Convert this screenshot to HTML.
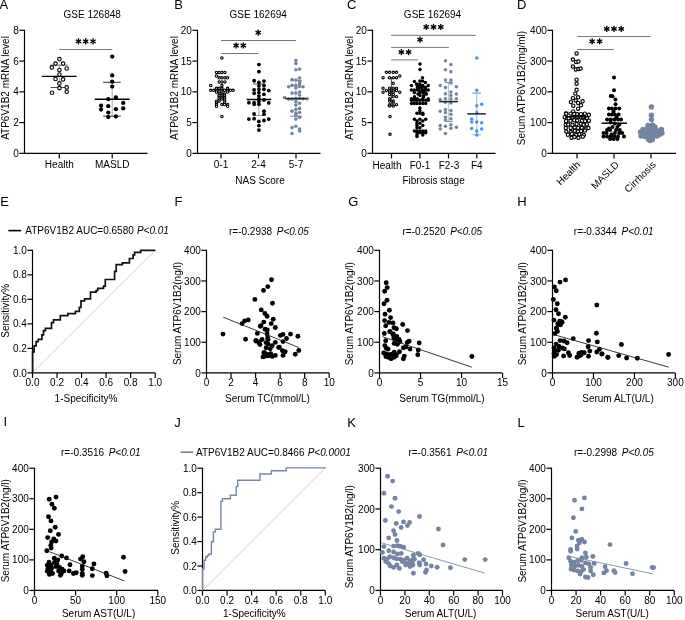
<!DOCTYPE html>
<html><head><meta charset="utf-8"><style>
html,body{margin:0;padding:0;background:#fff;overflow:hidden;}
svg{display:block;font-family:"Liberation Sans",sans-serif;will-change:transform;}
</style></head><body>
<svg width="685" height="620" viewBox="0 0 685 620">
<rect width="685" height="620" fill="#fff"/>
<text x="-0.6" y="8.7" font-size="13" text-anchor="start" fill="#000">A</text>
<text x="92.2" y="18" font-size="10" text-anchor="middle" fill="#000">GSE 126848</text>
<text x="9.2" y="88" font-size="10" text-anchor="middle" transform="rotate(-90 9.2 88)" fill="#000">ATP6V1B2 mRNA level</text>
<line x1="24.5" y1="29.8" x2="24.5" y2="153.9" stroke="#000" stroke-width="1.2" stroke-linecap="butt"/>
<line x1="19.4" y1="153.35" x2="24.5" y2="153.35" stroke="#000" stroke-width="1.2" stroke-linecap="butt"/>
<text x="18.8" y="156.95" font-size="10" text-anchor="end" fill="#000">0</text>
<line x1="19.4" y1="122.58749999999999" x2="24.5" y2="122.58749999999999" stroke="#000" stroke-width="1.2" stroke-linecap="butt"/>
<text x="18.8" y="126.18749999999999" font-size="10" text-anchor="end" fill="#000">2</text>
<line x1="19.4" y1="91.82499999999999" x2="24.5" y2="91.82499999999999" stroke="#000" stroke-width="1.2" stroke-linecap="butt"/>
<text x="18.8" y="95.42499999999998" font-size="10" text-anchor="end" fill="#000">4</text>
<line x1="19.4" y1="61.0625" x2="24.5" y2="61.0625" stroke="#000" stroke-width="1.2" stroke-linecap="butt"/>
<text x="18.8" y="64.6625" font-size="10" text-anchor="end" fill="#000">6</text>
<line x1="19.4" y1="30.299999999999997" x2="24.5" y2="30.299999999999997" stroke="#000" stroke-width="1.2" stroke-linecap="butt"/>
<text x="18.8" y="33.9" font-size="10" text-anchor="end" fill="#000">8</text>
<line x1="23.95" y1="153.35" x2="147.5" y2="153.35" stroke="#000" stroke-width="1.2" stroke-linecap="butt"/>
<line x1="59.3" y1="153.35" x2="59.3" y2="158.45" stroke="#000" stroke-width="1.2" stroke-linecap="butt"/>
<line x1="112.2" y1="153.35" x2="112.2" y2="158.45" stroke="#000" stroke-width="1.2" stroke-linecap="butt"/>
<text x="59.3" y="167.9" font-size="10" text-anchor="middle" fill="#000">Health</text>
<text x="112.2" y="167.9" font-size="10" text-anchor="middle" fill="#000">MASLD</text>
<text x="174.3" y="9" font-size="13" text-anchor="start" fill="#000">B</text>
<text x="258.2" y="18" font-size="10" text-anchor="middle" fill="#000">GSE 162694</text>
<text x="177.6" y="88" font-size="10" text-anchor="middle" transform="rotate(-90 177.6 88)" fill="#000">ATP6V1B2 mRNA level</text>
<line x1="197.5" y1="29.8" x2="197.5" y2="153.9" stroke="#000" stroke-width="1.2" stroke-linecap="butt"/>
<line x1="192.4" y1="153.35" x2="197.5" y2="153.35" stroke="#000" stroke-width="1.2" stroke-linecap="butt"/>
<text x="191.8" y="156.95" font-size="10" text-anchor="end" fill="#000">0</text>
<line x1="192.4" y1="122.58749999999999" x2="197.5" y2="122.58749999999999" stroke="#000" stroke-width="1.2" stroke-linecap="butt"/>
<text x="191.8" y="126.18749999999999" font-size="10" text-anchor="end" fill="#000">5</text>
<line x1="192.4" y1="91.82499999999999" x2="197.5" y2="91.82499999999999" stroke="#000" stroke-width="1.2" stroke-linecap="butt"/>
<text x="191.8" y="95.42499999999998" font-size="10" text-anchor="end" fill="#000">10</text>
<line x1="192.4" y1="61.0625" x2="197.5" y2="61.0625" stroke="#000" stroke-width="1.2" stroke-linecap="butt"/>
<text x="191.8" y="64.6625" font-size="10" text-anchor="end" fill="#000">15</text>
<line x1="192.4" y1="30.299999999999997" x2="197.5" y2="30.299999999999997" stroke="#000" stroke-width="1.2" stroke-linecap="butt"/>
<text x="191.8" y="33.9" font-size="10" text-anchor="end" fill="#000">20</text>
<line x1="196.95" y1="153.35" x2="320.5" y2="153.35" stroke="#000" stroke-width="1.2" stroke-linecap="butt"/>
<line x1="221" y1="153.35" x2="221" y2="158.45" stroke="#000" stroke-width="1.2" stroke-linecap="butt"/>
<line x1="258.5" y1="153.35" x2="258.5" y2="158.45" stroke="#000" stroke-width="1.2" stroke-linecap="butt"/>
<line x1="296" y1="153.35" x2="296" y2="158.45" stroke="#000" stroke-width="1.2" stroke-linecap="butt"/>
<text x="221" y="168.2" font-size="10" text-anchor="middle" fill="#000">0-1</text>
<text x="258.5" y="168.2" font-size="10" text-anchor="middle" fill="#000">2-4</text>
<text x="296" y="168.2" font-size="10" text-anchor="middle" fill="#000">5-7</text>
<text x="260" y="183.6" font-size="10" text-anchor="middle" fill="#000">NAS Score</text>
<text x="347" y="9" font-size="13" text-anchor="start" fill="#000">C</text>
<text x="432.5" y="18" font-size="10" text-anchor="middle" fill="#000">GSE 162694</text>
<text x="352.5" y="88" font-size="10" text-anchor="middle" transform="rotate(-90 352.5 88)" fill="#000">ATP6V1B2 mRNA level</text>
<line x1="372.5" y1="29.8" x2="372.5" y2="153.9" stroke="#000" stroke-width="1.2" stroke-linecap="butt"/>
<line x1="367.4" y1="153.35" x2="372.5" y2="153.35" stroke="#000" stroke-width="1.2" stroke-linecap="butt"/>
<text x="366.8" y="156.95" font-size="10" text-anchor="end" fill="#000">0</text>
<line x1="367.4" y1="122.58749999999999" x2="372.5" y2="122.58749999999999" stroke="#000" stroke-width="1.2" stroke-linecap="butt"/>
<text x="366.8" y="126.18749999999999" font-size="10" text-anchor="end" fill="#000">5</text>
<line x1="367.4" y1="91.82499999999999" x2="372.5" y2="91.82499999999999" stroke="#000" stroke-width="1.2" stroke-linecap="butt"/>
<text x="366.8" y="95.42499999999998" font-size="10" text-anchor="end" fill="#000">10</text>
<line x1="367.4" y1="61.0625" x2="372.5" y2="61.0625" stroke="#000" stroke-width="1.2" stroke-linecap="butt"/>
<text x="366.8" y="64.6625" font-size="10" text-anchor="end" fill="#000">15</text>
<line x1="367.4" y1="30.299999999999997" x2="372.5" y2="30.299999999999997" stroke="#000" stroke-width="1.2" stroke-linecap="butt"/>
<text x="366.8" y="33.9" font-size="10" text-anchor="end" fill="#000">20</text>
<line x1="371.95" y1="153.35" x2="495.5" y2="153.35" stroke="#000" stroke-width="1.2" stroke-linecap="butt"/>
<line x1="391.5" y1="153.35" x2="391.5" y2="158.45" stroke="#000" stroke-width="1.2" stroke-linecap="butt"/>
<line x1="419.9" y1="153.35" x2="419.9" y2="158.45" stroke="#000" stroke-width="1.2" stroke-linecap="butt"/>
<line x1="448.5" y1="153.35" x2="448.5" y2="158.45" stroke="#000" stroke-width="1.2" stroke-linecap="butt"/>
<line x1="476.8" y1="153.35" x2="476.8" y2="158.45" stroke="#000" stroke-width="1.2" stroke-linecap="butt"/>
<text x="387" y="168.6" font-size="10" text-anchor="middle" fill="#000">Health</text>
<text x="420" y="168.6" font-size="10" text-anchor="middle" fill="#000">F0-1</text>
<text x="449" y="168.6" font-size="10" text-anchor="middle" fill="#000">F2-3</text>
<text x="476.8" y="168.6" font-size="10" text-anchor="middle" fill="#000">F4</text>
<text x="433.6" y="183.8" font-size="10" text-anchor="middle" fill="#000">Fibrosis stage</text>
<text x="517" y="9" font-size="13" text-anchor="start" fill="#000">D</text>
<text x="525.3" y="88" font-size="10" text-anchor="middle" transform="rotate(-90 525.3 88)" fill="#000">Serum ATP6V1B2(mg/ml)</text>
<line x1="552.5" y1="29.8" x2="552.5" y2="153.9" stroke="#000" stroke-width="1.2" stroke-linecap="butt"/>
<line x1="547.4" y1="153.35" x2="552.5" y2="153.35" stroke="#000" stroke-width="1.2" stroke-linecap="butt"/>
<text x="546.8" y="156.95" font-size="10" text-anchor="end" fill="#000">0</text>
<line x1="547.4" y1="122.58749999999999" x2="552.5" y2="122.58749999999999" stroke="#000" stroke-width="1.2" stroke-linecap="butt"/>
<text x="546.8" y="126.18749999999999" font-size="10" text-anchor="end" fill="#000">100</text>
<line x1="547.4" y1="91.82499999999999" x2="552.5" y2="91.82499999999999" stroke="#000" stroke-width="1.2" stroke-linecap="butt"/>
<text x="546.8" y="95.42499999999998" font-size="10" text-anchor="end" fill="#000">200</text>
<line x1="547.4" y1="61.0625" x2="552.5" y2="61.0625" stroke="#000" stroke-width="1.2" stroke-linecap="butt"/>
<text x="546.8" y="64.6625" font-size="10" text-anchor="end" fill="#000">300</text>
<line x1="547.4" y1="30.299999999999997" x2="552.5" y2="30.299999999999997" stroke="#000" stroke-width="1.2" stroke-linecap="butt"/>
<text x="546.8" y="33.9" font-size="10" text-anchor="end" fill="#000">400</text>
<line x1="551.95" y1="153.35" x2="676" y2="153.35" stroke="#000" stroke-width="1.2" stroke-linecap="butt"/>
<line x1="577" y1="153.35" x2="577" y2="158.45" stroke="#000" stroke-width="1.2" stroke-linecap="butt"/>
<line x1="614" y1="153.35" x2="614" y2="158.45" stroke="#000" stroke-width="1.2" stroke-linecap="butt"/>
<line x1="651" y1="153.35" x2="651" y2="158.45" stroke="#000" stroke-width="1.2" stroke-linecap="butt"/>
<text x="581" y="165.3" font-size="10" text-anchor="end" transform="rotate(-45 581 165.3)">Health</text>
<text x="619.5" y="165.3" font-size="10" text-anchor="end" transform="rotate(-45 619.5 165.3)">MASLD</text>
<text x="656.5" y="165.3" font-size="10" text-anchor="end" transform="rotate(-45 656.5 165.3)">Cirrhosis</text>
<text x="0.3" y="206.1" font-size="13" text-anchor="start" fill="#000">E</text>
<line x1="8.4" y1="230.6" x2="21.2" y2="230.6" stroke="#000" stroke-width="1.6" stroke-linecap="butt"/>
<text x="25.3" y="234.4" font-size="10" text-anchor="start" fill="#000">ATP6V1B2 AUC=0.6580 </text>
<text x="136.9" y="234.4" font-size="10" text-anchor="start" font-style="italic" fill="#000">P&lt;0.01</text>
<text x="9.0" y="310.8" font-size="10" text-anchor="middle" transform="rotate(-90 9.0 310.8)" fill="#000">Sensitivity%</text>
<line x1="32.5" y1="249.8" x2="32.5" y2="373.45" stroke="#000" stroke-width="1.2" stroke-linecap="butt"/>
<line x1="27.4" y1="372.9" x2="32.5" y2="372.9" stroke="#000" stroke-width="1.2" stroke-linecap="butt"/>
<text x="26.8" y="376.5" font-size="10" text-anchor="end" fill="#000">0.0</text>
<line x1="27.4" y1="348.38" x2="32.5" y2="348.38" stroke="#000" stroke-width="1.2" stroke-linecap="butt"/>
<text x="26.8" y="351.98" font-size="10" text-anchor="end" fill="#000">0.2</text>
<line x1="27.4" y1="323.86" x2="32.5" y2="323.86" stroke="#000" stroke-width="1.2" stroke-linecap="butt"/>
<text x="26.8" y="327.46000000000004" font-size="10" text-anchor="end" fill="#000">0.4</text>
<line x1="27.4" y1="299.34000000000003" x2="32.5" y2="299.34000000000003" stroke="#000" stroke-width="1.2" stroke-linecap="butt"/>
<text x="26.8" y="302.94000000000005" font-size="10" text-anchor="end" fill="#000">0.6</text>
<line x1="27.4" y1="274.82" x2="32.5" y2="274.82" stroke="#000" stroke-width="1.2" stroke-linecap="butt"/>
<text x="26.8" y="278.42" font-size="10" text-anchor="end" fill="#000">0.8</text>
<line x1="27.4" y1="250.3" x2="32.5" y2="250.3" stroke="#000" stroke-width="1.2" stroke-linecap="butt"/>
<text x="26.8" y="253.9" font-size="10" text-anchor="end" fill="#000">1.0</text>
<line x1="31.95" y1="372.9" x2="155.2" y2="372.9" stroke="#000" stroke-width="1.2" stroke-linecap="butt"/>
<line x1="32.5" y1="372.9" x2="32.5" y2="378.0" stroke="#000" stroke-width="1.2" stroke-linecap="butt"/>
<text x="32.5" y="386.4" font-size="10" text-anchor="middle" fill="#000">0.0</text>
<line x1="57.04" y1="372.9" x2="57.04" y2="378.0" stroke="#000" stroke-width="1.2" stroke-linecap="butt"/>
<text x="57.04" y="386.4" font-size="10" text-anchor="middle" fill="#000">0.2</text>
<line x1="81.58" y1="372.9" x2="81.58" y2="378.0" stroke="#000" stroke-width="1.2" stroke-linecap="butt"/>
<text x="81.58" y="386.4" font-size="10" text-anchor="middle" fill="#000">0.4</text>
<line x1="106.11999999999999" y1="372.9" x2="106.11999999999999" y2="378.0" stroke="#000" stroke-width="1.2" stroke-linecap="butt"/>
<text x="106.11999999999999" y="386.4" font-size="10" text-anchor="middle" fill="#000">0.6</text>
<line x1="130.66" y1="372.9" x2="130.66" y2="378.0" stroke="#000" stroke-width="1.2" stroke-linecap="butt"/>
<text x="130.66" y="386.4" font-size="10" text-anchor="middle" fill="#000">0.8</text>
<line x1="155.2" y1="372.9" x2="155.2" y2="378.0" stroke="#000" stroke-width="1.2" stroke-linecap="butt"/>
<text x="155.2" y="386.4" font-size="10" text-anchor="middle" fill="#000">1.0</text>
<text x="86" y="401.5" font-size="10" text-anchor="middle" fill="#000">1-Specificity%</text>
<text x="174.5" y="206.1" font-size="13" text-anchor="start" fill="#000">F</text>
<text x="229" y="234.7" font-size="10" text-anchor="start" fill="#000">r=-0.2938</text>
<text x="276.8" y="234.7" font-size="10" text-anchor="start" font-style="italic" fill="#000">P&lt;0.05</text>
<text x="180.6" y="313.5" font-size="10" text-anchor="middle" transform="rotate(-90 180.6 313.5)" fill="#000">Serum ATP6V1B2(ng/l)</text>
<line x1="206.5" y1="249.8" x2="206.5" y2="373.45" stroke="#000" stroke-width="1.2" stroke-linecap="butt"/>
<line x1="201.4" y1="372.9" x2="206.5" y2="372.9" stroke="#000" stroke-width="1.2" stroke-linecap="butt"/>
<text x="200.8" y="376.5" font-size="10" text-anchor="end" fill="#000">0</text>
<line x1="201.4" y1="342.25" x2="206.5" y2="342.25" stroke="#000" stroke-width="1.2" stroke-linecap="butt"/>
<text x="200.8" y="345.85" font-size="10" text-anchor="end" fill="#000">100</text>
<line x1="201.4" y1="311.6" x2="206.5" y2="311.6" stroke="#000" stroke-width="1.2" stroke-linecap="butt"/>
<text x="200.8" y="315.20000000000005" font-size="10" text-anchor="end" fill="#000">200</text>
<line x1="201.4" y1="280.95" x2="206.5" y2="280.95" stroke="#000" stroke-width="1.2" stroke-linecap="butt"/>
<text x="200.8" y="284.55" font-size="10" text-anchor="end" fill="#000">300</text>
<line x1="201.4" y1="250.3" x2="206.5" y2="250.3" stroke="#000" stroke-width="1.2" stroke-linecap="butt"/>
<text x="200.8" y="253.9" font-size="10" text-anchor="end" fill="#000">400</text>
<line x1="205.95" y1="372.9" x2="329.3" y2="372.9" stroke="#000" stroke-width="1.2" stroke-linecap="butt"/>
<line x1="206.5" y1="372.9" x2="206.5" y2="378.0" stroke="#000" stroke-width="1.2" stroke-linecap="butt"/>
<text x="206.5" y="386.4" font-size="10" text-anchor="middle" fill="#000">0</text>
<line x1="231.04" y1="372.9" x2="231.04" y2="378.0" stroke="#000" stroke-width="1.2" stroke-linecap="butt"/>
<text x="231.04" y="386.4" font-size="10" text-anchor="middle" fill="#000">2</text>
<line x1="255.57999999999998" y1="372.9" x2="255.57999999999998" y2="378.0" stroke="#000" stroke-width="1.2" stroke-linecap="butt"/>
<text x="255.57999999999998" y="386.4" font-size="10" text-anchor="middle" fill="#000">4</text>
<line x1="280.12" y1="372.9" x2="280.12" y2="378.0" stroke="#000" stroke-width="1.2" stroke-linecap="butt"/>
<text x="280.12" y="386.4" font-size="10" text-anchor="middle" fill="#000">6</text>
<line x1="304.65999999999997" y1="372.9" x2="304.65999999999997" y2="378.0" stroke="#000" stroke-width="1.2" stroke-linecap="butt"/>
<text x="304.65999999999997" y="386.4" font-size="10" text-anchor="middle" fill="#000">8</text>
<line x1="329.2" y1="372.9" x2="329.2" y2="378.0" stroke="#000" stroke-width="1.2" stroke-linecap="butt"/>
<text x="329.2" y="386.4" font-size="10" text-anchor="middle" fill="#000">10</text>
<text x="267.5" y="401.7" font-size="10" text-anchor="middle" fill="#000">Serum TC(mmol/L)</text>
<text x="348.3" y="206.1" font-size="13" text-anchor="start" fill="#000">G</text>
<text x="402.5" y="234.7" font-size="10" text-anchor="start" fill="#000">r=-0.2520</text>
<text x="450.2" y="234.7" font-size="10" text-anchor="start" font-style="italic" fill="#000">P&lt;0.05</text>
<text x="353.2" y="313.7" font-size="10" text-anchor="middle" transform="rotate(-90 353.2 313.7)" fill="#000">Serum ATP6V1B2(ng/l)</text>
<line x1="379.5" y1="249.8" x2="379.5" y2="373.45" stroke="#000" stroke-width="1.2" stroke-linecap="butt"/>
<line x1="374.4" y1="372.9" x2="379.5" y2="372.9" stroke="#000" stroke-width="1.2" stroke-linecap="butt"/>
<text x="373.8" y="376.5" font-size="10" text-anchor="end" fill="#000">0</text>
<line x1="374.4" y1="342.25" x2="379.5" y2="342.25" stroke="#000" stroke-width="1.2" stroke-linecap="butt"/>
<text x="373.8" y="345.85" font-size="10" text-anchor="end" fill="#000">100</text>
<line x1="374.4" y1="311.6" x2="379.5" y2="311.6" stroke="#000" stroke-width="1.2" stroke-linecap="butt"/>
<text x="373.8" y="315.20000000000005" font-size="10" text-anchor="end" fill="#000">200</text>
<line x1="374.4" y1="280.95" x2="379.5" y2="280.95" stroke="#000" stroke-width="1.2" stroke-linecap="butt"/>
<text x="373.8" y="284.55" font-size="10" text-anchor="end" fill="#000">300</text>
<line x1="374.4" y1="250.3" x2="379.5" y2="250.3" stroke="#000" stroke-width="1.2" stroke-linecap="butt"/>
<text x="373.8" y="253.9" font-size="10" text-anchor="end" fill="#000">400</text>
<line x1="378.95" y1="372.9" x2="502.2" y2="372.9" stroke="#000" stroke-width="1.2" stroke-linecap="butt"/>
<line x1="379.5" y1="372.9" x2="379.5" y2="378.0" stroke="#000" stroke-width="1.2" stroke-linecap="butt"/>
<text x="379.5" y="386.4" font-size="10" text-anchor="middle" fill="#000">0</text>
<line x1="420.53" y1="372.9" x2="420.53" y2="378.0" stroke="#000" stroke-width="1.2" stroke-linecap="butt"/>
<text x="420.53" y="386.4" font-size="10" text-anchor="middle" fill="#000">5</text>
<line x1="461.56" y1="372.9" x2="461.56" y2="378.0" stroke="#000" stroke-width="1.2" stroke-linecap="butt"/>
<text x="461.56" y="386.4" font-size="10" text-anchor="middle" fill="#000">10</text>
<line x1="502.59000000000003" y1="372.9" x2="502.59000000000003" y2="378.0" stroke="#000" stroke-width="1.2" stroke-linecap="butt"/>
<text x="502.59000000000003" y="386.4" font-size="10" text-anchor="middle" fill="#000">15</text>
<text x="442" y="401.7" font-size="10" text-anchor="middle" fill="#000">Serum TG(mmol/L)</text>
<text x="517.3" y="206.1" font-size="13" text-anchor="start" fill="#000">H</text>
<text x="573.8" y="234.7" font-size="10" text-anchor="start" fill="#000">r=-0.3344</text>
<text x="621.6" y="234.7" font-size="10" text-anchor="start" font-style="italic" fill="#000">P&lt;0.01</text>
<text x="525.8" y="313.7" font-size="10" text-anchor="middle" transform="rotate(-90 525.8 313.7)" fill="#000">Serum ATP6V1B2(ng/l)</text>
<line x1="552.5" y1="249.8" x2="552.5" y2="373.45" stroke="#000" stroke-width="1.2" stroke-linecap="butt"/>
<line x1="547.4" y1="372.9" x2="552.5" y2="372.9" stroke="#000" stroke-width="1.2" stroke-linecap="butt"/>
<text x="546.8" y="376.5" font-size="10" text-anchor="end" fill="#000">0</text>
<line x1="547.4" y1="342.25" x2="552.5" y2="342.25" stroke="#000" stroke-width="1.2" stroke-linecap="butt"/>
<text x="546.8" y="345.85" font-size="10" text-anchor="end" fill="#000">100</text>
<line x1="547.4" y1="311.6" x2="552.5" y2="311.6" stroke="#000" stroke-width="1.2" stroke-linecap="butt"/>
<text x="546.8" y="315.20000000000005" font-size="10" text-anchor="end" fill="#000">200</text>
<line x1="547.4" y1="280.95" x2="552.5" y2="280.95" stroke="#000" stroke-width="1.2" stroke-linecap="butt"/>
<text x="546.8" y="284.55" font-size="10" text-anchor="end" fill="#000">300</text>
<line x1="547.4" y1="250.3" x2="552.5" y2="250.3" stroke="#000" stroke-width="1.2" stroke-linecap="butt"/>
<text x="546.8" y="253.9" font-size="10" text-anchor="end" fill="#000">400</text>
<line x1="551.95" y1="372.9" x2="675.2" y2="372.9" stroke="#000" stroke-width="1.2" stroke-linecap="butt"/>
<line x1="552.5" y1="372.9" x2="552.5" y2="378.0" stroke="#000" stroke-width="1.2" stroke-linecap="butt"/>
<text x="552.5" y="386.4" font-size="10" text-anchor="middle" fill="#000">0</text>
<line x1="593.47" y1="372.9" x2="593.47" y2="378.0" stroke="#000" stroke-width="1.2" stroke-linecap="butt"/>
<text x="593.47" y="386.4" font-size="10" text-anchor="middle" fill="#000">100</text>
<line x1="634.44" y1="372.9" x2="634.44" y2="378.0" stroke="#000" stroke-width="1.2" stroke-linecap="butt"/>
<text x="634.44" y="386.4" font-size="10" text-anchor="middle" fill="#000">200</text>
<line x1="675.41" y1="372.9" x2="675.41" y2="378.0" stroke="#000" stroke-width="1.2" stroke-linecap="butt"/>
<text x="675.41" y="386.4" font-size="10" text-anchor="middle" fill="#000">300</text>
<text x="618" y="401.7" font-size="10" text-anchor="middle" fill="#000">Serum ALT(U/L)</text>
<text x="3.4" y="426.4" font-size="13" text-anchor="start" fill="#000">I</text>
<text x="61" y="456.1" font-size="10" text-anchor="start" fill="#000">r=-0.3516</text>
<text x="108.7" y="456.1" font-size="10" text-anchor="start" font-style="italic" fill="#000">P&lt;0.01</text>
<text x="8.8" y="530.7" font-size="10" text-anchor="middle" transform="rotate(-90 8.8 530.7)" fill="#000">Serum ATP6V1B2(ng/l)</text>
<line x1="34.5" y1="467.7" x2="34.5" y2="591.0" stroke="#000" stroke-width="1.2" stroke-linecap="butt"/>
<line x1="29.4" y1="590.45" x2="34.5" y2="590.45" stroke="#000" stroke-width="1.2" stroke-linecap="butt"/>
<text x="28.8" y="594.0500000000001" font-size="10" text-anchor="end" fill="#000">0</text>
<line x1="29.4" y1="559.8875" x2="34.5" y2="559.8875" stroke="#000" stroke-width="1.2" stroke-linecap="butt"/>
<text x="28.8" y="563.4875000000001" font-size="10" text-anchor="end" fill="#000">100</text>
<line x1="29.4" y1="529.325" x2="34.5" y2="529.325" stroke="#000" stroke-width="1.2" stroke-linecap="butt"/>
<text x="28.8" y="532.9250000000001" font-size="10" text-anchor="end" fill="#000">200</text>
<line x1="29.4" y1="498.7625" x2="34.5" y2="498.7625" stroke="#000" stroke-width="1.2" stroke-linecap="butt"/>
<text x="28.8" y="502.3625" font-size="10" text-anchor="end" fill="#000">300</text>
<line x1="29.4" y1="468.2" x2="34.5" y2="468.2" stroke="#000" stroke-width="1.2" stroke-linecap="butt"/>
<text x="28.8" y="471.8" font-size="10" text-anchor="end" fill="#000">400</text>
<line x1="33.95" y1="590.45" x2="158.1" y2="590.45" stroke="#000" stroke-width="1.2" stroke-linecap="butt"/>
<line x1="34.5" y1="590.45" x2="34.5" y2="595.5500000000001" stroke="#000" stroke-width="1.2" stroke-linecap="butt"/>
<text x="34.5" y="603.95" font-size="10" text-anchor="middle" fill="#000">0</text>
<line x1="75.6" y1="590.45" x2="75.6" y2="595.5500000000001" stroke="#000" stroke-width="1.2" stroke-linecap="butt"/>
<text x="75.6" y="603.95" font-size="10" text-anchor="middle" fill="#000">50</text>
<line x1="116.7" y1="590.45" x2="116.7" y2="595.5500000000001" stroke="#000" stroke-width="1.2" stroke-linecap="butt"/>
<text x="116.7" y="603.95" font-size="10" text-anchor="middle" fill="#000">100</text>
<line x1="157.8" y1="590.45" x2="157.8" y2="595.5500000000001" stroke="#000" stroke-width="1.2" stroke-linecap="butt"/>
<text x="157.8" y="603.95" font-size="10" text-anchor="middle" fill="#000">150</text>
<text x="98.6" y="617.2" font-size="10" text-anchor="middle" fill="#000">Serum AST(U/L)</text>
<text x="174.3" y="426.6" font-size="13" text-anchor="start" fill="#000">J</text>
<line x1="180.6" y1="452.2" x2="193.1" y2="452.2" stroke="#6f7f98" stroke-width="1.6" stroke-linecap="butt"/>
<text x="196" y="456.2" font-size="10" text-anchor="start" fill="#000">ATP6V1B2 AUC=0.8466 </text>
<text x="307.7" y="456.2" font-size="10" text-anchor="start" font-style="italic" fill="#000">P&lt;0.0001</text>
<text x="179.2" y="527.7" font-size="10" text-anchor="middle" transform="rotate(-90 179.2 527.7)" fill="#000">Sensitivity%</text>
<line x1="202.5" y1="467.7" x2="202.5" y2="591.0" stroke="#000" stroke-width="1.2" stroke-linecap="butt"/>
<line x1="197.4" y1="590.45" x2="202.5" y2="590.45" stroke="#000" stroke-width="1.2" stroke-linecap="butt"/>
<text x="196.8" y="594.0500000000001" font-size="10" text-anchor="end" fill="#000">0.0</text>
<line x1="197.4" y1="566.0" x2="202.5" y2="566.0" stroke="#000" stroke-width="1.2" stroke-linecap="butt"/>
<text x="196.8" y="569.6" font-size="10" text-anchor="end" fill="#000">0.2</text>
<line x1="197.4" y1="541.5500000000001" x2="202.5" y2="541.5500000000001" stroke="#000" stroke-width="1.2" stroke-linecap="butt"/>
<text x="196.8" y="545.1500000000001" font-size="10" text-anchor="end" fill="#000">0.4</text>
<line x1="197.4" y1="517.1" x2="202.5" y2="517.1" stroke="#000" stroke-width="1.2" stroke-linecap="butt"/>
<text x="196.8" y="520.7" font-size="10" text-anchor="end" fill="#000">0.6</text>
<line x1="197.4" y1="492.65" x2="202.5" y2="492.65" stroke="#000" stroke-width="1.2" stroke-linecap="butt"/>
<text x="196.8" y="496.25" font-size="10" text-anchor="end" fill="#000">0.8</text>
<line x1="197.4" y1="468.2" x2="202.5" y2="468.2" stroke="#000" stroke-width="1.2" stroke-linecap="butt"/>
<text x="196.8" y="471.8" font-size="10" text-anchor="end" fill="#000">1.0</text>
<line x1="201.95" y1="590.45" x2="325.3" y2="590.45" stroke="#000" stroke-width="1.2" stroke-linecap="butt"/>
<line x1="202.5" y1="590.45" x2="202.5" y2="595.5500000000001" stroke="#000" stroke-width="1.2" stroke-linecap="butt"/>
<text x="202.5" y="603.95" font-size="10" text-anchor="middle" fill="#000">0.0</text>
<line x1="227.06" y1="590.45" x2="227.06" y2="595.5500000000001" stroke="#000" stroke-width="1.2" stroke-linecap="butt"/>
<text x="227.06" y="603.95" font-size="10" text-anchor="middle" fill="#000">0.2</text>
<line x1="251.62" y1="590.45" x2="251.62" y2="595.5500000000001" stroke="#000" stroke-width="1.2" stroke-linecap="butt"/>
<text x="251.62" y="603.95" font-size="10" text-anchor="middle" fill="#000">0.4</text>
<line x1="276.18" y1="590.45" x2="276.18" y2="595.5500000000001" stroke="#000" stroke-width="1.2" stroke-linecap="butt"/>
<text x="276.18" y="603.95" font-size="10" text-anchor="middle" fill="#000">0.6</text>
<line x1="300.74" y1="590.45" x2="300.74" y2="595.5500000000001" stroke="#000" stroke-width="1.2" stroke-linecap="butt"/>
<text x="300.74" y="603.95" font-size="10" text-anchor="middle" fill="#000">0.8</text>
<line x1="325.3" y1="590.45" x2="325.3" y2="595.5500000000001" stroke="#000" stroke-width="1.2" stroke-linecap="butt"/>
<text x="325.3" y="603.95" font-size="10" text-anchor="middle" fill="#000">1.0</text>
<text x="254.3" y="617.4" font-size="10" text-anchor="middle" fill="#000">1-Specificity%</text>
<text x="347.3" y="426.6" font-size="13" text-anchor="start" fill="#000">K</text>
<text x="408.4" y="456.2" font-size="10" text-anchor="start" fill="#000">r=-0.3561</text>
<text x="456.2" y="456.2" font-size="10" text-anchor="start" font-style="italic" fill="#000">P&lt;0.01</text>
<text x="353.5" y="536.7" font-size="10" text-anchor="middle" transform="rotate(-90 353.5 536.7)" fill="#000">Serum ATP6V1B2(ng/l)</text>
<line x1="380.5" y1="467.7" x2="380.5" y2="591.0" stroke="#000" stroke-width="1.2" stroke-linecap="butt"/>
<line x1="375.4" y1="590.45" x2="380.5" y2="590.45" stroke="#000" stroke-width="1.2" stroke-linecap="butt"/>
<text x="374.8" y="594.0500000000001" font-size="10" text-anchor="end" fill="#000">0</text>
<line x1="375.4" y1="549.7" x2="380.5" y2="549.7" stroke="#000" stroke-width="1.2" stroke-linecap="butt"/>
<text x="374.8" y="553.3000000000001" font-size="10" text-anchor="end" fill="#000">100</text>
<line x1="375.4" y1="508.95" x2="380.5" y2="508.95" stroke="#000" stroke-width="1.2" stroke-linecap="butt"/>
<text x="374.8" y="512.55" font-size="10" text-anchor="end" fill="#000">200</text>
<line x1="375.4" y1="468.2" x2="380.5" y2="468.2" stroke="#000" stroke-width="1.2" stroke-linecap="butt"/>
<text x="374.8" y="471.8" font-size="10" text-anchor="end" fill="#000">300</text>
<line x1="379.95" y1="590.45" x2="502.6" y2="590.45" stroke="#000" stroke-width="1.2" stroke-linecap="butt"/>
<line x1="380.5" y1="590.45" x2="380.5" y2="595.5500000000001" stroke="#000" stroke-width="1.2" stroke-linecap="butt"/>
<text x="380.5" y="603.95" font-size="10" text-anchor="middle" fill="#000">0</text>
<line x1="404.9" y1="590.45" x2="404.9" y2="595.5500000000001" stroke="#000" stroke-width="1.2" stroke-linecap="butt"/>
<text x="404.9" y="603.95" font-size="10" text-anchor="middle" fill="#000">20</text>
<line x1="429.3" y1="590.45" x2="429.3" y2="595.5500000000001" stroke="#000" stroke-width="1.2" stroke-linecap="butt"/>
<text x="429.3" y="603.95" font-size="10" text-anchor="middle" fill="#000">40</text>
<line x1="453.7" y1="590.45" x2="453.7" y2="595.5500000000001" stroke="#000" stroke-width="1.2" stroke-linecap="butt"/>
<text x="453.7" y="603.95" font-size="10" text-anchor="middle" fill="#000">60</text>
<line x1="478.1" y1="590.45" x2="478.1" y2="595.5500000000001" stroke="#000" stroke-width="1.2" stroke-linecap="butt"/>
<text x="478.1" y="603.95" font-size="10" text-anchor="middle" fill="#000">80</text>
<line x1="502.5" y1="590.45" x2="502.5" y2="595.5500000000001" stroke="#000" stroke-width="1.2" stroke-linecap="butt"/>
<text x="502.5" y="603.95" font-size="10" text-anchor="middle" fill="#000">100</text>
<text x="440.6" y="617.4" font-size="10" text-anchor="middle" fill="#000">Serum ALT(U/L)</text>
<text x="517.5" y="426.6" font-size="13" text-anchor="start" fill="#000">L</text>
<text x="574" y="456.2" font-size="10" text-anchor="start" fill="#000">r=-0.2998</text>
<text x="621.8" y="456.2" font-size="10" text-anchor="start" font-style="italic" fill="#000">P&lt;0.05</text>
<text x="526.3" y="531" font-size="10" text-anchor="middle" transform="rotate(-90 526.3 531)" fill="#000">Serum ATP6V1B2(ng/l)</text>
<line x1="551.5" y1="467.7" x2="551.5" y2="591.0" stroke="#000" stroke-width="1.2" stroke-linecap="butt"/>
<line x1="546.4" y1="590.45" x2="551.5" y2="590.45" stroke="#000" stroke-width="1.2" stroke-linecap="butt"/>
<text x="545.8" y="594.0500000000001" font-size="10" text-anchor="end" fill="#000">0</text>
<line x1="546.4" y1="559.8875" x2="551.5" y2="559.8875" stroke="#000" stroke-width="1.2" stroke-linecap="butt"/>
<text x="545.8" y="563.4875000000001" font-size="10" text-anchor="end" fill="#000">100</text>
<line x1="546.4" y1="529.325" x2="551.5" y2="529.325" stroke="#000" stroke-width="1.2" stroke-linecap="butt"/>
<text x="545.8" y="532.9250000000001" font-size="10" text-anchor="end" fill="#000">200</text>
<line x1="546.4" y1="498.7625" x2="551.5" y2="498.7625" stroke="#000" stroke-width="1.2" stroke-linecap="butt"/>
<text x="545.8" y="502.3625" font-size="10" text-anchor="end" fill="#000">300</text>
<line x1="546.4" y1="468.2" x2="551.5" y2="468.2" stroke="#000" stroke-width="1.2" stroke-linecap="butt"/>
<text x="545.8" y="471.8" font-size="10" text-anchor="end" fill="#000">400</text>
<line x1="550.95" y1="590.45" x2="674.2" y2="590.45" stroke="#000" stroke-width="1.2" stroke-linecap="butt"/>
<line x1="551.5" y1="590.45" x2="551.5" y2="595.5500000000001" stroke="#000" stroke-width="1.2" stroke-linecap="butt"/>
<text x="551.5" y="603.95" font-size="10" text-anchor="middle" fill="#000">0</text>
<line x1="576.06" y1="590.45" x2="576.06" y2="595.5500000000001" stroke="#000" stroke-width="1.2" stroke-linecap="butt"/>
<text x="576.06" y="603.95" font-size="10" text-anchor="middle" fill="#000">20</text>
<line x1="600.62" y1="590.45" x2="600.62" y2="595.5500000000001" stroke="#000" stroke-width="1.2" stroke-linecap="butt"/>
<text x="600.62" y="603.95" font-size="10" text-anchor="middle" fill="#000">40</text>
<line x1="625.18" y1="590.45" x2="625.18" y2="595.5500000000001" stroke="#000" stroke-width="1.2" stroke-linecap="butt"/>
<text x="625.18" y="603.95" font-size="10" text-anchor="middle" fill="#000">60</text>
<line x1="649.74" y1="590.45" x2="649.74" y2="595.5500000000001" stroke="#000" stroke-width="1.2" stroke-linecap="butt"/>
<text x="649.74" y="603.95" font-size="10" text-anchor="middle" fill="#000">80</text>
<line x1="674.3" y1="590.45" x2="674.3" y2="595.5500000000001" stroke="#000" stroke-width="1.2" stroke-linecap="butt"/>
<text x="674.3" y="603.95" font-size="10" text-anchor="middle" fill="#000">100</text>
<text x="612.2" y="617.4" font-size="10" text-anchor="middle" fill="#000">Serum AST(U/L)</text>
<line x1="59.2" y1="49.5" x2="112.2" y2="49.5" stroke="#777" stroke-width="1.0" stroke-linecap="butt"/>
<line x1="78.50" y1="38.20" x2="78.50" y2="44.40" stroke="#000" stroke-width="1.35"/>
<line x1="75.82" y1="39.75" x2="81.18" y2="42.85" stroke="#000" stroke-width="1.35"/>
<line x1="75.82" y1="42.85" x2="81.18" y2="39.75" stroke="#000" stroke-width="1.35"/>
<line x1="85.70" y1="38.20" x2="85.70" y2="44.40" stroke="#000" stroke-width="1.35"/>
<line x1="83.02" y1="39.75" x2="88.38" y2="42.85" stroke="#000" stroke-width="1.35"/>
<line x1="83.02" y1="42.85" x2="88.38" y2="39.75" stroke="#000" stroke-width="1.35"/>
<line x1="93.00" y1="38.20" x2="93.00" y2="44.40" stroke="#000" stroke-width="1.35"/>
<line x1="90.32" y1="39.75" x2="95.68" y2="42.85" stroke="#000" stroke-width="1.35"/>
<line x1="90.32" y1="42.85" x2="95.68" y2="39.75" stroke="#000" stroke-width="1.35"/>
<line x1="59.4" y1="65.1" x2="59.4" y2="87.5" stroke="#9a9a9a" stroke-width="0.9" stroke-linecap="butt"/>
<line x1="50.7" y1="65.1" x2="67.6" y2="65.1" stroke="#555" stroke-width="0.9" stroke-linecap="butt"/>
<line x1="50.7" y1="87.5" x2="67.6" y2="87.5" stroke="#333" stroke-width="0.9" stroke-linecap="butt"/>
<circle cx="59.40" cy="59.10" r="1.75" fill="#fff" stroke="#000" stroke-width="1.1"/>
<circle cx="55.50" cy="63.60" r="1.75" fill="#fff" stroke="#000" stroke-width="1.1"/>
<circle cx="63.10" cy="63.60" r="1.75" fill="#fff" stroke="#000" stroke-width="1.1"/>
<circle cx="51.80" cy="67.40" r="1.75" fill="#fff" stroke="#000" stroke-width="1.1"/>
<circle cx="66.70" cy="68.50" r="1.75" fill="#fff" stroke="#000" stroke-width="1.1"/>
<circle cx="59.40" cy="70.00" r="1.75" fill="#fff" stroke="#000" stroke-width="1.1"/>
<circle cx="59.40" cy="74.50" r="1.75" fill="#fff" stroke="#000" stroke-width="1.1"/>
<circle cx="55.50" cy="79.00" r="1.75" fill="#fff" stroke="#000" stroke-width="1.1"/>
<circle cx="63.10" cy="79.40" r="1.75" fill="#fff" stroke="#000" stroke-width="1.1"/>
<circle cx="59.40" cy="83.40" r="1.75" fill="#fff" stroke="#000" stroke-width="1.1"/>
<circle cx="59.40" cy="88.10" r="1.75" fill="#fff" stroke="#000" stroke-width="1.1"/>
<circle cx="66.70" cy="87.40" r="1.75" fill="#fff" stroke="#000" stroke-width="1.1"/>
<circle cx="66.70" cy="91.70" r="1.75" fill="#fff" stroke="#000" stroke-width="1.1"/>
<circle cx="52.00" cy="92.80" r="1.75" fill="#fff" stroke="#000" stroke-width="1.1"/>
<line x1="41.8" y1="76.4" x2="76.6" y2="76.4" stroke="#000" stroke-width="1.3" stroke-linecap="butt"/>
<line x1="112.2" y1="82.3" x2="112.2" y2="116.2" stroke="#a8a8a8" stroke-width="1.0" stroke-linecap="butt"/>
<line x1="103.1" y1="82.3" x2="120.8" y2="82.3" stroke="#333" stroke-width="1.0" stroke-linecap="butt"/>
<line x1="103.1" y1="116.2" x2="120.8" y2="116.2" stroke="#333" stroke-width="1.0" stroke-linecap="butt"/>
<circle cx="112.20" cy="56.60" r="2.15" fill="#000"/>
<circle cx="112.20" cy="75.40" r="2.15" fill="#000"/>
<circle cx="112.20" cy="81.70" r="2.15" fill="#000"/>
<circle cx="112.20" cy="86.60" r="2.15" fill="#000"/>
<circle cx="115.90" cy="97.40" r="2.15" fill="#000"/>
<circle cx="108.30" cy="99.20" r="2.15" fill="#000"/>
<circle cx="101.10" cy="105.60" r="2.15" fill="#000"/>
<circle cx="123.20" cy="102.90" r="2.15" fill="#000"/>
<circle cx="108.30" cy="106.20" r="2.15" fill="#000"/>
<circle cx="101.10" cy="109.50" r="2.15" fill="#000"/>
<circle cx="123.20" cy="108.40" r="2.15" fill="#000"/>
<circle cx="115.90" cy="109.20" r="2.15" fill="#000"/>
<circle cx="108.30" cy="112.60" r="2.15" fill="#000"/>
<circle cx="108.30" cy="117.10" r="2.15" fill="#000"/>
<circle cx="115.90" cy="116.50" r="2.15" fill="#000"/>
<line x1="94.7" y1="99.3" x2="129.7" y2="99.3" stroke="#000" stroke-width="1.4" stroke-linecap="butt"/>
<line x1="221" y1="40.5" x2="295.9" y2="40.5" stroke="#777" stroke-width="1.0" stroke-linecap="butt"/>
<line x1="221" y1="53.5" x2="258.2" y2="53.5" stroke="#777" stroke-width="1.0" stroke-linecap="butt"/>
<line x1="258.20" y1="29.60" x2="258.20" y2="35.80" stroke="#000" stroke-width="1.35"/>
<line x1="255.52" y1="31.15" x2="260.88" y2="34.25" stroke="#000" stroke-width="1.35"/>
<line x1="255.52" y1="34.25" x2="260.88" y2="31.15" stroke="#000" stroke-width="1.35"/>
<line x1="236.10" y1="42.40" x2="236.10" y2="48.60" stroke="#000" stroke-width="1.35"/>
<line x1="233.42" y1="43.95" x2="238.78" y2="47.05" stroke="#000" stroke-width="1.35"/>
<line x1="233.42" y1="47.05" x2="238.78" y2="43.95" stroke="#000" stroke-width="1.35"/>
<line x1="243.30" y1="42.40" x2="243.30" y2="48.60" stroke="#000" stroke-width="1.35"/>
<line x1="240.62" y1="43.95" x2="245.98" y2="47.05" stroke="#000" stroke-width="1.35"/>
<line x1="240.62" y1="47.05" x2="245.98" y2="43.95" stroke="#000" stroke-width="1.35"/>
<line x1="215" y1="90.3" x2="234.5" y2="90.3" stroke="#000" stroke-width="1.2" stroke-linecap="butt"/>
<circle cx="216.46" cy="72.40" r="1.2" fill="#fff" stroke="#000" stroke-width="1.1"/>
<circle cx="219.17" cy="72.40" r="1.2" fill="#fff" stroke="#000" stroke-width="1.1"/>
<circle cx="221.88" cy="72.40" r="1.2" fill="#fff" stroke="#000" stroke-width="1.1"/>
<circle cx="224.93" cy="72.40" r="1.2" fill="#fff" stroke="#000" stroke-width="1.1"/>
<circle cx="216.46" cy="76.00" r="1.2" fill="#fff" stroke="#000" stroke-width="1.1"/>
<circle cx="219.17" cy="77.80" r="1.2" fill="#fff" stroke="#000" stroke-width="1.1"/>
<circle cx="221.88" cy="77.80" r="1.2" fill="#fff" stroke="#000" stroke-width="1.1"/>
<circle cx="224.93" cy="77.80" r="1.2" fill="#fff" stroke="#000" stroke-width="1.1"/>
<circle cx="227.63" cy="77.80" r="1.2" fill="#fff" stroke="#000" stroke-width="1.1"/>
<circle cx="219.17" cy="81.90" r="1.2" fill="#fff" stroke="#000" stroke-width="1.1"/>
<circle cx="221.88" cy="81.90" r="1.2" fill="#fff" stroke="#000" stroke-width="1.1"/>
<circle cx="224.93" cy="81.90" r="1.2" fill="#fff" stroke="#000" stroke-width="1.1"/>
<circle cx="210.71" cy="85.60" r="1.2" fill="#fff" stroke="#000" stroke-width="1.1"/>
<circle cx="221.88" cy="85.60" r="1.2" fill="#fff" stroke="#000" stroke-width="1.1"/>
<circle cx="216.46" cy="88.30" r="1.2" fill="#fff" stroke="#000" stroke-width="1.1"/>
<circle cx="219.17" cy="88.30" r="1.2" fill="#fff" stroke="#000" stroke-width="1.1"/>
<circle cx="221.88" cy="88.30" r="1.2" fill="#fff" stroke="#000" stroke-width="1.1"/>
<circle cx="227.63" cy="88.30" r="1.2" fill="#fff" stroke="#000" stroke-width="1.1"/>
<circle cx="210.71" cy="90.30" r="1.2" fill="#fff" stroke="#000" stroke-width="1.1"/>
<circle cx="213.75" cy="90.30" r="1.2" fill="#fff" stroke="#000" stroke-width="1.1"/>
<circle cx="216.46" cy="90.30" r="1.2" fill="#fff" stroke="#000" stroke-width="1.1"/>
<circle cx="219.17" cy="90.30" r="1.2" fill="#fff" stroke="#000" stroke-width="1.1"/>
<circle cx="221.88" cy="90.30" r="1.2" fill="#fff" stroke="#000" stroke-width="1.1"/>
<circle cx="224.59" cy="90.30" r="1.2" fill="#fff" stroke="#000" stroke-width="1.1"/>
<circle cx="227.63" cy="90.30" r="1.2" fill="#fff" stroke="#000" stroke-width="1.1"/>
<circle cx="230.34" cy="90.30" r="1.2" fill="#fff" stroke="#000" stroke-width="1.1"/>
<circle cx="233.05" cy="90.30" r="1.2" fill="#fff" stroke="#000" stroke-width="1.1"/>
<circle cx="216.46" cy="92.00" r="1.2" fill="#fff" stroke="#000" stroke-width="1.1"/>
<circle cx="219.17" cy="92.00" r="1.2" fill="#fff" stroke="#000" stroke-width="1.1"/>
<circle cx="221.88" cy="92.00" r="1.2" fill="#fff" stroke="#000" stroke-width="1.1"/>
<circle cx="227.63" cy="92.00" r="1.2" fill="#fff" stroke="#000" stroke-width="1.1"/>
<circle cx="219.17" cy="94.10" r="1.2" fill="#fff" stroke="#000" stroke-width="1.1"/>
<circle cx="221.88" cy="94.10" r="1.2" fill="#fff" stroke="#000" stroke-width="1.1"/>
<circle cx="224.59" cy="94.10" r="1.2" fill="#fff" stroke="#000" stroke-width="1.1"/>
<circle cx="219.17" cy="95.80" r="1.2" fill="#fff" stroke="#000" stroke-width="1.1"/>
<circle cx="221.88" cy="95.80" r="1.2" fill="#fff" stroke="#000" stroke-width="1.1"/>
<circle cx="224.59" cy="95.80" r="1.2" fill="#fff" stroke="#000" stroke-width="1.1"/>
<circle cx="219.17" cy="97.50" r="1.2" fill="#fff" stroke="#000" stroke-width="1.1"/>
<circle cx="221.88" cy="97.50" r="1.2" fill="#fff" stroke="#000" stroke-width="1.1"/>
<circle cx="224.59" cy="97.50" r="1.2" fill="#fff" stroke="#000" stroke-width="1.1"/>
<circle cx="219.17" cy="99.10" r="1.2" fill="#fff" stroke="#000" stroke-width="1.1"/>
<circle cx="221.88" cy="99.10" r="1.2" fill="#fff" stroke="#000" stroke-width="1.1"/>
<circle cx="224.59" cy="99.10" r="1.2" fill="#fff" stroke="#000" stroke-width="1.1"/>
<circle cx="216.46" cy="101.20" r="1.2" fill="#fff" stroke="#000" stroke-width="1.1"/>
<circle cx="219.17" cy="101.20" r="1.2" fill="#fff" stroke="#000" stroke-width="1.1"/>
<circle cx="224.59" cy="101.20" r="1.2" fill="#fff" stroke="#000" stroke-width="1.1"/>
<circle cx="216.46" cy="102.90" r="1.2" fill="#fff" stroke="#000" stroke-width="1.1"/>
<circle cx="224.59" cy="102.90" r="1.2" fill="#fff" stroke="#000" stroke-width="1.1"/>
<circle cx="216.46" cy="104.60" r="1.2" fill="#fff" stroke="#000" stroke-width="1.1"/>
<circle cx="221.88" cy="104.60" r="1.2" fill="#fff" stroke="#000" stroke-width="1.1"/>
<circle cx="224.59" cy="104.60" r="1.2" fill="#fff" stroke="#000" stroke-width="1.1"/>
<circle cx="227.63" cy="104.60" r="1.2" fill="#fff" stroke="#000" stroke-width="1.1"/>
<circle cx="216.46" cy="106.30" r="1.2" fill="#fff" stroke="#000" stroke-width="1.1"/>
<circle cx="227.63" cy="106.30" r="1.2" fill="#fff" stroke="#000" stroke-width="1.1"/>
<circle cx="221.90" cy="57.90" r="1.2" fill="#fff" stroke="#000" stroke-width="1.1"/>
<circle cx="221.90" cy="116.40" r="1.2" fill="#fff" stroke="#000" stroke-width="1.1"/>
<line x1="258.9" y1="84" x2="258.9" y2="115.5" stroke="#a8a8a8" stroke-width="1.0" stroke-linecap="butt"/>
<line x1="253" y1="84" x2="264.7" y2="84" stroke="#555" stroke-width="1.0" stroke-linecap="butt"/>
<line x1="253" y1="115.5" x2="264.7" y2="115.5" stroke="#999" stroke-width="1.0" stroke-linecap="butt"/>
<circle cx="258.90" cy="64.59" r="1.9" fill="#000"/>
<circle cx="258.90" cy="71.71" r="1.9" fill="#000"/>
<circle cx="254.11" cy="80.75" r="1.9" fill="#000"/>
<circle cx="258.90" cy="82.40" r="1.9" fill="#000"/>
<circle cx="263.97" cy="81.03" r="1.9" fill="#000"/>
<circle cx="258.90" cy="85.82" r="1.9" fill="#000"/>
<circle cx="263.97" cy="85.41" r="1.9" fill="#000"/>
<circle cx="254.11" cy="89.93" r="1.9" fill="#000"/>
<circle cx="258.90" cy="89.25" r="1.9" fill="#000"/>
<circle cx="263.97" cy="89.25" r="1.9" fill="#000"/>
<circle cx="268.77" cy="90.62" r="1.9" fill="#000"/>
<circle cx="254.11" cy="93.36" r="1.9" fill="#000"/>
<circle cx="258.90" cy="92.67" r="1.9" fill="#000"/>
<circle cx="263.97" cy="94.32" r="1.9" fill="#000"/>
<circle cx="258.90" cy="96.10" r="1.9" fill="#000"/>
<circle cx="258.90" cy="98.84" r="1.9" fill="#000"/>
<circle cx="263.97" cy="99.93" r="1.9" fill="#000"/>
<circle cx="248.90" cy="102.67" r="1.9" fill="#000"/>
<circle cx="254.11" cy="102.67" r="1.9" fill="#000"/>
<circle cx="258.90" cy="101.58" r="1.9" fill="#000"/>
<circle cx="268.77" cy="102.95" r="1.9" fill="#000"/>
<circle cx="254.11" cy="104.32" r="1.9" fill="#000"/>
<circle cx="258.90" cy="104.32" r="1.9" fill="#000"/>
<circle cx="263.97" cy="111.16" r="1.9" fill="#000"/>
<circle cx="254.11" cy="113.90" r="1.9" fill="#000"/>
<circle cx="263.97" cy="114.18" r="1.9" fill="#000"/>
<circle cx="248.90" cy="119.11" r="1.9" fill="#000"/>
<circle cx="254.11" cy="118.70" r="1.9" fill="#000"/>
<circle cx="258.90" cy="121.44" r="1.9" fill="#000"/>
<circle cx="263.97" cy="120.48" r="1.9" fill="#000"/>
<circle cx="268.77" cy="119.11" r="1.9" fill="#000"/>
<circle cx="258.90" cy="125.55" r="1.9" fill="#000"/>
<circle cx="258.90" cy="130.07" r="1.9" fill="#000"/>
<line x1="246.6" y1="99.5" x2="271.2" y2="99.5" stroke="#000" stroke-width="1.5" stroke-linecap="butt"/>
<line x1="295.9" y1="80.3" x2="295.9" y2="116.2" stroke="#b8c2d2" stroke-width="1.0" stroke-linecap="butt"/>
<line x1="290" y1="80.3" x2="302" y2="80.3" stroke="#7385a2" stroke-width="1.0" stroke-linecap="butt"/>
<line x1="290" y1="116.2" x2="302" y2="116.2" stroke="#7385a2" stroke-width="1.0" stroke-linecap="butt"/>
<circle cx="295.89" cy="60.48" r="1.8" fill="#7385a2"/>
<circle cx="295.89" cy="63.49" r="1.8" fill="#7385a2"/>
<circle cx="295.89" cy="69.79" r="1.8" fill="#7385a2"/>
<circle cx="299.59" cy="69.11" r="1.8" fill="#7385a2"/>
<circle cx="292.05" cy="79.66" r="1.8" fill="#7385a2"/>
<circle cx="295.89" cy="79.93" r="1.8" fill="#7385a2"/>
<circle cx="299.59" cy="78.01" r="1.8" fill="#7385a2"/>
<circle cx="299.59" cy="81.71" r="1.8" fill="#7385a2"/>
<circle cx="288.63" cy="86.78" r="1.8" fill="#7385a2"/>
<circle cx="292.05" cy="85.41" r="1.8" fill="#7385a2"/>
<circle cx="295.89" cy="85.41" r="1.8" fill="#7385a2"/>
<circle cx="299.59" cy="84.04" r="1.8" fill="#7385a2"/>
<circle cx="303.01" cy="86.78" r="1.8" fill="#7385a2"/>
<circle cx="295.89" cy="87.88" r="1.8" fill="#7385a2"/>
<circle cx="299.59" cy="86.51" r="1.8" fill="#7385a2"/>
<circle cx="292.05" cy="93.08" r="1.8" fill="#7385a2"/>
<circle cx="295.89" cy="93.08" r="1.8" fill="#7385a2"/>
<circle cx="299.59" cy="91.99" r="1.8" fill="#7385a2"/>
<circle cx="299.59" cy="95.00" r="1.8" fill="#7385a2"/>
<circle cx="284.52" cy="97.47" r="1.8" fill="#7385a2"/>
<circle cx="288.63" cy="99.11" r="1.8" fill="#7385a2"/>
<circle cx="292.05" cy="99.11" r="1.8" fill="#7385a2"/>
<circle cx="295.89" cy="98.56" r="1.8" fill="#7385a2"/>
<circle cx="299.59" cy="98.56" r="1.8" fill="#7385a2"/>
<circle cx="303.01" cy="98.84" r="1.8" fill="#7385a2"/>
<circle cx="307.12" cy="98.84" r="1.8" fill="#7385a2"/>
<circle cx="295.89" cy="101.58" r="1.8" fill="#7385a2"/>
<circle cx="299.59" cy="103.22" r="1.8" fill="#7385a2"/>
<circle cx="295.89" cy="105.00" r="1.8" fill="#7385a2"/>
<circle cx="292.05" cy="111.16" r="1.8" fill="#7385a2"/>
<circle cx="295.89" cy="109.52" r="1.8" fill="#7385a2"/>
<circle cx="299.59" cy="108.42" r="1.8" fill="#7385a2"/>
<circle cx="295.89" cy="113.22" r="1.8" fill="#7385a2"/>
<circle cx="299.59" cy="112.53" r="1.8" fill="#7385a2"/>
<circle cx="295.89" cy="115.27" r="1.8" fill="#7385a2"/>
<circle cx="295.89" cy="119.11" r="1.8" fill="#7385a2"/>
<circle cx="299.59" cy="117.33" r="1.8" fill="#7385a2"/>
<circle cx="292.05" cy="127.60" r="1.8" fill="#7385a2"/>
<circle cx="295.89" cy="126.23" r="1.8" fill="#7385a2"/>
<circle cx="299.59" cy="128.97" r="1.8" fill="#7385a2"/>
<circle cx="299.59" cy="131.03" r="1.8" fill="#7385a2"/>
<circle cx="292.05" cy="133.49" r="1.8" fill="#7385a2"/>
<line x1="285.2" y1="98.6" x2="306.4" y2="98.6" stroke="#222" stroke-width="1.5" stroke-linecap="butt"/>
<line x1="391.1" y1="35.3" x2="475.8" y2="35.3" stroke="#777" stroke-width="1.0" stroke-linecap="butt"/>
<line x1="391.1" y1="47.4" x2="448.8" y2="47.4" stroke="#777" stroke-width="1.0" stroke-linecap="butt"/>
<line x1="391.1" y1="59.9" x2="418.1" y2="59.9" stroke="#777" stroke-width="1.0" stroke-linecap="butt"/>
<line x1="426.20" y1="23.90" x2="426.20" y2="30.10" stroke="#000" stroke-width="1.35"/>
<line x1="423.52" y1="25.45" x2="428.88" y2="28.55" stroke="#000" stroke-width="1.35"/>
<line x1="423.52" y1="28.55" x2="428.88" y2="25.45" stroke="#000" stroke-width="1.35"/>
<line x1="433.50" y1="23.90" x2="433.50" y2="30.10" stroke="#000" stroke-width="1.35"/>
<line x1="430.82" y1="25.45" x2="436.18" y2="28.55" stroke="#000" stroke-width="1.35"/>
<line x1="430.82" y1="28.55" x2="436.18" y2="25.45" stroke="#000" stroke-width="1.35"/>
<line x1="440.80" y1="23.90" x2="440.80" y2="30.10" stroke="#000" stroke-width="1.35"/>
<line x1="438.12" y1="25.45" x2="443.48" y2="28.55" stroke="#000" stroke-width="1.35"/>
<line x1="438.12" y1="28.55" x2="443.48" y2="25.45" stroke="#000" stroke-width="1.35"/>
<line x1="420.00" y1="36.60" x2="420.00" y2="42.80" stroke="#000" stroke-width="1.35"/>
<line x1="417.32" y1="38.15" x2="422.68" y2="41.25" stroke="#000" stroke-width="1.35"/>
<line x1="417.32" y1="41.25" x2="422.68" y2="38.15" stroke="#000" stroke-width="1.35"/>
<line x1="401.40" y1="49.00" x2="401.40" y2="55.20" stroke="#000" stroke-width="1.35"/>
<line x1="398.72" y1="50.55" x2="404.08" y2="53.65" stroke="#000" stroke-width="1.35"/>
<line x1="398.72" y1="53.65" x2="404.08" y2="50.55" stroke="#000" stroke-width="1.35"/>
<line x1="408.60" y1="49.00" x2="408.60" y2="55.20" stroke="#000" stroke-width="1.35"/>
<line x1="405.92" y1="50.55" x2="411.28" y2="53.65" stroke="#000" stroke-width="1.35"/>
<line x1="405.92" y1="53.65" x2="411.28" y2="50.55" stroke="#000" stroke-width="1.35"/>
<line x1="391.4" y1="77.7" x2="391.4" y2="105.5" stroke="#333" stroke-width="0.9" stroke-linecap="butt"/>
<line x1="387.4" y1="77.7" x2="397.6" y2="77.7" stroke="#333" stroke-width="0.9" stroke-linecap="butt"/>
<line x1="387.1" y1="105.7" x2="397" y2="105.7" stroke="#333" stroke-width="0.9" stroke-linecap="butt"/>
<circle cx="386.35" cy="72.30" r="1.15" fill="#fff" stroke="#000" stroke-width="1.15"/>
<circle cx="389.62" cy="72.30" r="1.15" fill="#fff" stroke="#000" stroke-width="1.15"/>
<circle cx="393.25" cy="72.30" r="1.15" fill="#fff" stroke="#000" stroke-width="1.15"/>
<circle cx="396.52" cy="72.30" r="1.15" fill="#fff" stroke="#000" stroke-width="1.15"/>
<circle cx="399.79" cy="75.90" r="1.15" fill="#fff" stroke="#000" stroke-width="1.15"/>
<circle cx="383.08" cy="77.70" r="1.15" fill="#fff" stroke="#000" stroke-width="1.15"/>
<circle cx="389.62" cy="77.70" r="1.15" fill="#fff" stroke="#000" stroke-width="1.15"/>
<circle cx="393.25" cy="77.70" r="1.15" fill="#fff" stroke="#000" stroke-width="1.15"/>
<circle cx="396.52" cy="77.70" r="1.15" fill="#fff" stroke="#000" stroke-width="1.15"/>
<circle cx="393.25" cy="83.20" r="1.15" fill="#fff" stroke="#000" stroke-width="1.15"/>
<circle cx="383.08" cy="88.20" r="1.15" fill="#fff" stroke="#000" stroke-width="1.15"/>
<circle cx="389.62" cy="88.20" r="1.15" fill="#fff" stroke="#000" stroke-width="1.15"/>
<circle cx="393.25" cy="88.20" r="1.15" fill="#fff" stroke="#000" stroke-width="1.15"/>
<circle cx="396.52" cy="88.20" r="1.15" fill="#fff" stroke="#000" stroke-width="1.15"/>
<circle cx="386.35" cy="90.40" r="1.15" fill="#fff" stroke="#000" stroke-width="1.15"/>
<circle cx="389.62" cy="90.40" r="1.15" fill="#fff" stroke="#000" stroke-width="1.15"/>
<circle cx="393.25" cy="90.40" r="1.15" fill="#fff" stroke="#000" stroke-width="1.15"/>
<circle cx="396.52" cy="90.40" r="1.15" fill="#fff" stroke="#000" stroke-width="1.15"/>
<circle cx="383.08" cy="92.20" r="1.15" fill="#fff" stroke="#000" stroke-width="1.15"/>
<circle cx="389.62" cy="92.20" r="1.15" fill="#fff" stroke="#000" stroke-width="1.15"/>
<circle cx="393.25" cy="92.20" r="1.15" fill="#fff" stroke="#000" stroke-width="1.15"/>
<circle cx="399.79" cy="92.20" r="1.15" fill="#fff" stroke="#000" stroke-width="1.15"/>
<circle cx="389.62" cy="94.40" r="1.15" fill="#fff" stroke="#000" stroke-width="1.15"/>
<circle cx="393.25" cy="94.40" r="1.15" fill="#fff" stroke="#000" stroke-width="1.15"/>
<circle cx="393.25" cy="96.60" r="1.15" fill="#fff" stroke="#000" stroke-width="1.15"/>
<circle cx="396.52" cy="96.60" r="1.15" fill="#fff" stroke="#000" stroke-width="1.15"/>
<circle cx="389.62" cy="98.80" r="1.15" fill="#fff" stroke="#000" stroke-width="1.15"/>
<circle cx="389.62" cy="101.00" r="1.15" fill="#fff" stroke="#000" stroke-width="1.15"/>
<circle cx="393.25" cy="101.00" r="1.15" fill="#fff" stroke="#000" stroke-width="1.15"/>
<circle cx="393.25" cy="103.10" r="1.15" fill="#fff" stroke="#000" stroke-width="1.15"/>
<circle cx="389.62" cy="104.60" r="1.15" fill="#fff" stroke="#000" stroke-width="1.15"/>
<circle cx="396.52" cy="104.60" r="1.15" fill="#fff" stroke="#000" stroke-width="1.15"/>
<circle cx="389.62" cy="106.00" r="1.15" fill="#fff" stroke="#000" stroke-width="1.15"/>
<circle cx="393.25" cy="106.00" r="1.15" fill="#fff" stroke="#000" stroke-width="1.15"/>
<circle cx="390.00" cy="116.40" r="1.15" fill="#fff" stroke="#000" stroke-width="1.15"/>
<circle cx="390.00" cy="134.20" r="1.15" fill="#fff" stroke="#000" stroke-width="1.15"/>
<circle cx="420.00" cy="63.90" r="1.75" fill="#000"/>
<circle cx="420.00" cy="69.40" r="1.75" fill="#000"/>
<circle cx="422.50" cy="77.70" r="1.75" fill="#000"/>
<circle cx="414.40" cy="81.60" r="1.75" fill="#000"/>
<circle cx="419.80" cy="81.00" r="1.75" fill="#000"/>
<circle cx="422.50" cy="81.00" r="1.75" fill="#000"/>
<circle cx="425.30" cy="82.60" r="1.75" fill="#000"/>
<circle cx="411.45" cy="85.50" r="1.75" fill="#000"/>
<circle cx="417.26" cy="85.50" r="1.75" fill="#000"/>
<circle cx="419.84" cy="85.50" r="1.75" fill="#000"/>
<circle cx="422.74" cy="85.50" r="1.75" fill="#000"/>
<circle cx="428.23" cy="85.50" r="1.75" fill="#000"/>
<circle cx="411.45" cy="90.00" r="1.75" fill="#000"/>
<circle cx="414.35" cy="90.00" r="1.75" fill="#000"/>
<circle cx="417.26" cy="90.00" r="1.75" fill="#000"/>
<circle cx="422.74" cy="90.00" r="1.75" fill="#000"/>
<circle cx="425.32" cy="90.00" r="1.75" fill="#000"/>
<circle cx="428.23" cy="90.00" r="1.75" fill="#000"/>
<circle cx="419.84" cy="88.00" r="1.75" fill="#000"/>
<circle cx="414.35" cy="92.50" r="1.75" fill="#000"/>
<circle cx="419.84" cy="92.50" r="1.75" fill="#000"/>
<circle cx="422.74" cy="92.50" r="1.75" fill="#000"/>
<circle cx="425.32" cy="92.50" r="1.75" fill="#000"/>
<circle cx="419.97" cy="95.50" r="1.75" fill="#000"/>
<circle cx="423.71" cy="95.50" r="1.75" fill="#000"/>
<circle cx="419.80" cy="84.00" r="1.75" fill="#000"/>
<circle cx="416.50" cy="84.00" r="1.75" fill="#000"/>
<circle cx="417.50" cy="87.50" r="1.75" fill="#000"/>
<circle cx="422.20" cy="87.50" r="1.75" fill="#000"/>
<circle cx="425.50" cy="87.50" r="1.75" fill="#000"/>
<circle cx="420.00" cy="91.00" r="1.75" fill="#000"/>
<circle cx="424.00" cy="91.00" r="1.75" fill="#000"/>
<circle cx="418.00" cy="94.00" r="1.75" fill="#000"/>
<circle cx="426.50" cy="94.00" r="1.75" fill="#000"/>
<circle cx="414.50" cy="96.80" r="1.75" fill="#000"/>
<circle cx="423.50" cy="96.80" r="1.75" fill="#000"/>
<circle cx="411.45" cy="98.80" r="1.75" fill="#000"/>
<circle cx="414.35" cy="98.80" r="1.75" fill="#000"/>
<circle cx="417.26" cy="98.80" r="1.75" fill="#000"/>
<circle cx="422.74" cy="98.80" r="1.75" fill="#000"/>
<circle cx="428.23" cy="98.80" r="1.75" fill="#000"/>
<circle cx="411.54" cy="100.20" r="1.75" fill="#000"/>
<circle cx="414.44" cy="100.20" r="1.75" fill="#000"/>
<circle cx="416.98" cy="100.20" r="1.75" fill="#000"/>
<circle cx="419.89" cy="100.20" r="1.75" fill="#000"/>
<circle cx="422.79" cy="100.20" r="1.75" fill="#000"/>
<circle cx="425.70" cy="100.20" r="1.75" fill="#000"/>
<circle cx="428.24" cy="100.20" r="1.75" fill="#000"/>
<circle cx="411.54" cy="103.50" r="1.75" fill="#000"/>
<circle cx="414.44" cy="103.50" r="1.75" fill="#000"/>
<circle cx="416.98" cy="103.50" r="1.75" fill="#000"/>
<circle cx="419.89" cy="103.50" r="1.75" fill="#000"/>
<circle cx="422.79" cy="103.50" r="1.75" fill="#000"/>
<circle cx="425.70" cy="103.50" r="1.75" fill="#000"/>
<circle cx="419.89" cy="108.00" r="1.75" fill="#000"/>
<circle cx="419.89" cy="110.60" r="1.75" fill="#000"/>
<circle cx="416.98" cy="113.20" r="1.75" fill="#000"/>
<circle cx="419.89" cy="113.20" r="1.75" fill="#000"/>
<circle cx="422.79" cy="113.20" r="1.75" fill="#000"/>
<circle cx="422.79" cy="114.60" r="1.75" fill="#000"/>
<circle cx="414.44" cy="119.30" r="1.75" fill="#000"/>
<circle cx="419.89" cy="119.30" r="1.75" fill="#000"/>
<circle cx="425.70" cy="119.30" r="1.75" fill="#000"/>
<circle cx="416.98" cy="121.10" r="1.75" fill="#000"/>
<circle cx="422.79" cy="121.10" r="1.75" fill="#000"/>
<circle cx="416.98" cy="123.30" r="1.75" fill="#000"/>
<circle cx="419.89" cy="123.30" r="1.75" fill="#000"/>
<circle cx="416.98" cy="125.50" r="1.75" fill="#000"/>
<circle cx="422.79" cy="125.50" r="1.75" fill="#000"/>
<circle cx="416.98" cy="127.70" r="1.75" fill="#000"/>
<circle cx="419.89" cy="127.70" r="1.75" fill="#000"/>
<circle cx="414.44" cy="131.00" r="1.75" fill="#000"/>
<circle cx="416.98" cy="131.00" r="1.75" fill="#000"/>
<circle cx="419.89" cy="131.00" r="1.75" fill="#000"/>
<circle cx="422.79" cy="131.00" r="1.75" fill="#000"/>
<circle cx="425.70" cy="131.00" r="1.75" fill="#000"/>
<circle cx="416.98" cy="132.80" r="1.75" fill="#000"/>
<circle cx="419.89" cy="132.80" r="1.75" fill="#000"/>
<circle cx="422.79" cy="132.80" r="1.75" fill="#000"/>
<circle cx="425.70" cy="132.80" r="1.75" fill="#000"/>
<circle cx="416.98" cy="135.00" r="1.75" fill="#000"/>
<circle cx="422.79" cy="135.00" r="1.75" fill="#000"/>
<circle cx="416.98" cy="136.40" r="1.75" fill="#000"/>
<line x1="448.4" y1="82.4" x2="448.4" y2="121.4" stroke="#b8c2d2" stroke-width="1.0" stroke-linecap="butt"/>
<line x1="445" y1="82.4" x2="452.5" y2="82.4" stroke="#7385a2" stroke-width="1.0" stroke-linecap="butt"/>
<line x1="445" y1="121.4" x2="452.5" y2="121.4" stroke="#7385a2" stroke-width="1.0" stroke-linecap="butt"/>
<circle cx="445.42" cy="60.75" r="1.75" fill="#7385a2"/>
<circle cx="450.90" cy="64.59" r="1.75" fill="#7385a2"/>
<circle cx="445.42" cy="69.79" r="1.75" fill="#7385a2"/>
<circle cx="450.90" cy="71.71" r="1.75" fill="#7385a2"/>
<circle cx="445.42" cy="79.93" r="1.75" fill="#7385a2"/>
<circle cx="450.90" cy="79.93" r="1.75" fill="#7385a2"/>
<circle cx="450.90" cy="83.08" r="1.75" fill="#7385a2"/>
<circle cx="440.22" cy="85.41" r="1.75" fill="#7385a2"/>
<circle cx="445.42" cy="87.47" r="1.75" fill="#7385a2"/>
<circle cx="456.38" cy="86.78" r="1.75" fill="#7385a2"/>
<circle cx="445.42" cy="93.63" r="1.75" fill="#7385a2"/>
<circle cx="450.90" cy="91.99" r="1.75" fill="#7385a2"/>
<circle cx="450.90" cy="95.41" r="1.75" fill="#7385a2"/>
<circle cx="456.38" cy="94.04" r="1.75" fill="#7385a2"/>
<circle cx="440.22" cy="99.52" r="1.75" fill="#7385a2"/>
<circle cx="445.42" cy="98.84" r="1.75" fill="#7385a2"/>
<circle cx="445.42" cy="102.26" r="1.75" fill="#7385a2"/>
<circle cx="450.90" cy="99.11" r="1.75" fill="#7385a2"/>
<circle cx="450.90" cy="102.95" r="1.75" fill="#7385a2"/>
<circle cx="456.38" cy="98.84" r="1.75" fill="#7385a2"/>
<circle cx="440.22" cy="111.16" r="1.75" fill="#7385a2"/>
<circle cx="445.42" cy="109.52" r="1.75" fill="#7385a2"/>
<circle cx="445.42" cy="112.53" r="1.75" fill="#7385a2"/>
<circle cx="450.90" cy="110.48" r="1.75" fill="#7385a2"/>
<circle cx="450.90" cy="114.18" r="1.75" fill="#7385a2"/>
<circle cx="445.42" cy="117.33" r="1.75" fill="#7385a2"/>
<circle cx="445.42" cy="120.07" r="1.75" fill="#7385a2"/>
<circle cx="450.90" cy="118.70" r="1.75" fill="#7385a2"/>
<circle cx="440.22" cy="125.55" r="1.75" fill="#7385a2"/>
<circle cx="440.22" cy="128.97" r="1.75" fill="#7385a2"/>
<circle cx="445.42" cy="126.23" r="1.75" fill="#7385a2"/>
<circle cx="450.90" cy="124.86" r="1.75" fill="#7385a2"/>
<circle cx="450.90" cy="128.29" r="1.75" fill="#7385a2"/>
<circle cx="456.38" cy="127.19" r="1.75" fill="#7385a2"/>
<circle cx="445.42" cy="133.49" r="1.75" fill="#7385a2"/>
<line x1="439.1" y1="101.6" x2="457.8" y2="101.6" stroke="#222" stroke-width="1.5" stroke-linecap="butt"/>
<line x1="476.8" y1="93.1" x2="476.8" y2="134.9" stroke="#8fbaf5" stroke-width="1.0" stroke-linecap="butt"/>
<line x1="472.4" y1="93.1" x2="481" y2="93.1" stroke="#4b93f0" stroke-width="1.0" stroke-linecap="butt"/>
<line x1="472.4" y1="134.9" x2="481" y2="134.9" stroke="#8fbaf5" stroke-width="1.0" stroke-linecap="butt"/>
<circle cx="476.80" cy="58.00" r="1.75" fill="#4b93f0"/>
<circle cx="476.80" cy="90.20" r="1.75" fill="#4b93f0"/>
<circle cx="476.80" cy="105.70" r="1.75" fill="#4b93f0"/>
<circle cx="481.70" cy="104.30" r="1.75" fill="#4b93f0"/>
<circle cx="476.80" cy="112.50" r="1.75" fill="#4b93f0"/>
<circle cx="471.70" cy="119.00" r="1.75" fill="#4b93f0"/>
<circle cx="471.70" cy="122.10" r="1.75" fill="#4b93f0"/>
<circle cx="476.80" cy="122.10" r="1.75" fill="#4b93f0"/>
<circle cx="481.70" cy="122.80" r="1.75" fill="#4b93f0"/>
<circle cx="471.70" cy="128.60" r="1.75" fill="#4b93f0"/>
<circle cx="481.70" cy="129.00" r="1.75" fill="#4b93f0"/>
<circle cx="476.80" cy="131.00" r="1.75" fill="#4b93f0"/>
<circle cx="476.80" cy="135.10" r="1.75" fill="#4b93f0"/>
<line x1="467.3" y1="113.9" x2="485.8" y2="113.9" stroke="#222" stroke-width="1.5" stroke-linecap="butt"/>
<line x1="577.2" y1="36.5" x2="650.8" y2="36.5" stroke="#777" stroke-width="1.0" stroke-linecap="butt"/>
<line x1="577.2" y1="49.5" x2="613.8" y2="49.5" stroke="#777" stroke-width="1.0" stroke-linecap="butt"/>
<line x1="606.80" y1="25.80" x2="606.80" y2="32.00" stroke="#000" stroke-width="1.35"/>
<line x1="604.12" y1="27.35" x2="609.48" y2="30.45" stroke="#000" stroke-width="1.35"/>
<line x1="604.12" y1="30.45" x2="609.48" y2="27.35" stroke="#000" stroke-width="1.35"/>
<line x1="614.00" y1="25.80" x2="614.00" y2="32.00" stroke="#000" stroke-width="1.35"/>
<line x1="611.32" y1="27.35" x2="616.68" y2="30.45" stroke="#000" stroke-width="1.35"/>
<line x1="611.32" y1="30.45" x2="616.68" y2="27.35" stroke="#000" stroke-width="1.35"/>
<line x1="621.20" y1="25.80" x2="621.20" y2="32.00" stroke="#000" stroke-width="1.35"/>
<line x1="618.52" y1="27.35" x2="623.88" y2="30.45" stroke="#000" stroke-width="1.35"/>
<line x1="618.52" y1="30.45" x2="623.88" y2="27.35" stroke="#000" stroke-width="1.35"/>
<line x1="592.10" y1="38.20" x2="592.10" y2="44.40" stroke="#000" stroke-width="1.35"/>
<line x1="589.42" y1="39.75" x2="594.78" y2="42.85" stroke="#000" stroke-width="1.35"/>
<line x1="589.42" y1="42.85" x2="594.78" y2="39.75" stroke="#000" stroke-width="1.35"/>
<line x1="599.60" y1="38.20" x2="599.60" y2="44.40" stroke="#000" stroke-width="1.35"/>
<line x1="596.92" y1="39.75" x2="602.28" y2="42.85" stroke="#000" stroke-width="1.35"/>
<line x1="596.92" y1="42.85" x2="602.28" y2="39.75" stroke="#000" stroke-width="1.35"/>
<circle cx="576.60" cy="53.50" r="1.65" fill="#fff" stroke="#000" stroke-width="1.15"/>
<circle cx="572.90" cy="59.50" r="1.65" fill="#fff" stroke="#000" stroke-width="1.15"/>
<circle cx="576.10" cy="61.90" r="1.65" fill="#fff" stroke="#000" stroke-width="1.15"/>
<circle cx="578.50" cy="61.60" r="1.65" fill="#fff" stroke="#000" stroke-width="1.15"/>
<circle cx="572.90" cy="66.50" r="1.65" fill="#fff" stroke="#000" stroke-width="1.15"/>
<circle cx="575.80" cy="69.50" r="1.65" fill="#fff" stroke="#000" stroke-width="1.15"/>
<circle cx="578.50" cy="69.00" r="1.65" fill="#fff" stroke="#000" stroke-width="1.15"/>
<circle cx="580.60" cy="68.50" r="1.65" fill="#fff" stroke="#000" stroke-width="1.15"/>
<circle cx="576.60" cy="79.70" r="1.65" fill="#fff" stroke="#000" stroke-width="1.15"/>
<circle cx="576.60" cy="83.70" r="1.65" fill="#fff" stroke="#000" stroke-width="1.15"/>
<circle cx="576.60" cy="89.80" r="1.65" fill="#fff" stroke="#000" stroke-width="1.15"/>
<circle cx="575.30" cy="93.60" r="1.65" fill="#fff" stroke="#000" stroke-width="1.15"/>
<circle cx="572.90" cy="98.10" r="1.65" fill="#fff" stroke="#000" stroke-width="1.15"/>
<circle cx="578.10" cy="97.30" r="1.65" fill="#fff" stroke="#000" stroke-width="1.15"/>
<circle cx="570.90" cy="102.10" r="1.65" fill="#fff" stroke="#000" stroke-width="1.15"/>
<circle cx="575.70" cy="100.50" r="1.65" fill="#fff" stroke="#000" stroke-width="1.15"/>
<circle cx="582.60" cy="101.30" r="1.65" fill="#fff" stroke="#000" stroke-width="1.15"/>
<circle cx="573.30" cy="105.70" r="1.65" fill="#fff" stroke="#000" stroke-width="1.15"/>
<circle cx="578.10" cy="102.90" r="1.65" fill="#fff" stroke="#000" stroke-width="1.15"/>
<circle cx="581.00" cy="105.30" r="1.65" fill="#fff" stroke="#000" stroke-width="1.15"/>
<circle cx="578.10" cy="108.70" r="1.65" fill="#fff" stroke="#000" stroke-width="1.15"/>
<circle cx="566.00" cy="113.40" r="1.65" fill="#fff" stroke="#000" stroke-width="1.15"/>
<circle cx="573.30" cy="111.40" r="1.65" fill="#fff" stroke="#000" stroke-width="1.15"/>
<circle cx="566.22" cy="113.74" r="1.65" fill="#fff" stroke="#000" stroke-width="1.15"/>
<circle cx="570.54" cy="113.62" r="1.65" fill="#fff" stroke="#000" stroke-width="1.15"/>
<circle cx="574.16" cy="114.09" r="1.65" fill="#fff" stroke="#000" stroke-width="1.15"/>
<circle cx="577.19" cy="114.31" r="1.65" fill="#fff" stroke="#000" stroke-width="1.15"/>
<circle cx="580.96" cy="114.19" r="1.65" fill="#fff" stroke="#000" stroke-width="1.15"/>
<circle cx="584.81" cy="113.65" r="1.65" fill="#fff" stroke="#000" stroke-width="1.15"/>
<circle cx="588.88" cy="114.82" r="1.65" fill="#fff" stroke="#000" stroke-width="1.15"/>
<circle cx="564.70" cy="117.16" r="1.65" fill="#fff" stroke="#000" stroke-width="1.15"/>
<circle cx="568.80" cy="118.32" r="1.65" fill="#fff" stroke="#000" stroke-width="1.15"/>
<circle cx="572.52" cy="117.43" r="1.65" fill="#fff" stroke="#000" stroke-width="1.15"/>
<circle cx="576.96" cy="116.87" r="1.65" fill="#fff" stroke="#000" stroke-width="1.15"/>
<circle cx="580.57" cy="117.26" r="1.65" fill="#fff" stroke="#000" stroke-width="1.15"/>
<circle cx="583.23" cy="116.99" r="1.65" fill="#fff" stroke="#000" stroke-width="1.15"/>
<circle cx="587.09" cy="118.11" r="1.65" fill="#fff" stroke="#000" stroke-width="1.15"/>
<circle cx="565.99" cy="121.13" r="1.65" fill="#fff" stroke="#000" stroke-width="1.15"/>
<circle cx="570.52" cy="120.80" r="1.65" fill="#fff" stroke="#000" stroke-width="1.15"/>
<circle cx="574.18" cy="120.30" r="1.65" fill="#fff" stroke="#000" stroke-width="1.15"/>
<circle cx="577.20" cy="120.53" r="1.65" fill="#fff" stroke="#000" stroke-width="1.15"/>
<circle cx="581.99" cy="120.88" r="1.65" fill="#fff" stroke="#000" stroke-width="1.15"/>
<circle cx="585.20" cy="121.14" r="1.65" fill="#fff" stroke="#000" stroke-width="1.15"/>
<circle cx="588.93" cy="120.68" r="1.65" fill="#fff" stroke="#000" stroke-width="1.15"/>
<circle cx="565.77" cy="124.72" r="1.65" fill="#fff" stroke="#000" stroke-width="1.15"/>
<circle cx="568.19" cy="124.52" r="1.65" fill="#fff" stroke="#000" stroke-width="1.15"/>
<circle cx="572.44" cy="125.00" r="1.65" fill="#fff" stroke="#000" stroke-width="1.15"/>
<circle cx="576.57" cy="124.06" r="1.65" fill="#fff" stroke="#000" stroke-width="1.15"/>
<circle cx="580.77" cy="123.79" r="1.65" fill="#fff" stroke="#000" stroke-width="1.15"/>
<circle cx="583.67" cy="124.81" r="1.65" fill="#fff" stroke="#000" stroke-width="1.15"/>
<circle cx="586.84" cy="124.38" r="1.65" fill="#fff" stroke="#000" stroke-width="1.15"/>
<circle cx="565.76" cy="128.07" r="1.65" fill="#fff" stroke="#000" stroke-width="1.15"/>
<circle cx="570.72" cy="127.92" r="1.65" fill="#fff" stroke="#000" stroke-width="1.15"/>
<circle cx="574.70" cy="127.50" r="1.65" fill="#fff" stroke="#000" stroke-width="1.15"/>
<circle cx="578.21" cy="127.95" r="1.65" fill="#fff" stroke="#000" stroke-width="1.15"/>
<circle cx="581.83" cy="127.73" r="1.65" fill="#fff" stroke="#000" stroke-width="1.15"/>
<circle cx="586.04" cy="128.51" r="1.65" fill="#fff" stroke="#000" stroke-width="1.15"/>
<circle cx="588.46" cy="128.06" r="1.65" fill="#fff" stroke="#000" stroke-width="1.15"/>
<circle cx="566.30" cy="131.52" r="1.65" fill="#fff" stroke="#000" stroke-width="1.15"/>
<circle cx="570.74" cy="131.99" r="1.65" fill="#fff" stroke="#000" stroke-width="1.15"/>
<circle cx="574.82" cy="130.86" r="1.65" fill="#fff" stroke="#000" stroke-width="1.15"/>
<circle cx="577.92" cy="131.47" r="1.65" fill="#fff" stroke="#000" stroke-width="1.15"/>
<circle cx="581.14" cy="131.14" r="1.65" fill="#fff" stroke="#000" stroke-width="1.15"/>
<circle cx="584.97" cy="130.59" r="1.65" fill="#fff" stroke="#000" stroke-width="1.15"/>
<circle cx="567.89" cy="134.83" r="1.65" fill="#fff" stroke="#000" stroke-width="1.15"/>
<circle cx="571.81" cy="134.00" r="1.65" fill="#fff" stroke="#000" stroke-width="1.15"/>
<circle cx="576.03" cy="134.99" r="1.65" fill="#fff" stroke="#000" stroke-width="1.15"/>
<circle cx="579.33" cy="134.32" r="1.65" fill="#fff" stroke="#000" stroke-width="1.15"/>
<circle cx="583.88" cy="135.01" r="1.65" fill="#fff" stroke="#000" stroke-width="1.15"/>
<circle cx="571.51" cy="137.78" r="1.65" fill="#fff" stroke="#000" stroke-width="1.15"/>
<circle cx="574.45" cy="137.06" r="1.65" fill="#fff" stroke="#000" stroke-width="1.15"/>
<circle cx="578.37" cy="137.81" r="1.65" fill="#fff" stroke="#000" stroke-width="1.15"/>
<circle cx="582.73" cy="136.64" r="1.65" fill="#fff" stroke="#000" stroke-width="1.15"/>
<line x1="565" y1="116.75" x2="587.5" y2="116.75" stroke="#000" stroke-width="1.5" stroke-linecap="butt"/>
<circle cx="614.00" cy="77.50" r="2.0" fill="#000"/>
<circle cx="614.00" cy="90.30" r="2.0" fill="#000"/>
<circle cx="610.70" cy="96.00" r="2.0" fill="#000"/>
<circle cx="612.50" cy="96.30" r="2.0" fill="#000"/>
<circle cx="615.50" cy="99.40" r="2.0" fill="#000"/>
<circle cx="615.50" cy="104.20" r="2.0" fill="#000"/>
<circle cx="608.90" cy="108.50" r="2.0" fill="#000"/>
<circle cx="611.90" cy="108.50" r="2.0" fill="#000"/>
<circle cx="615.50" cy="108.50" r="2.0" fill="#000"/>
<circle cx="619.20" cy="108.50" r="2.0" fill="#000"/>
<circle cx="608.90" cy="114.50" r="2.0" fill="#000"/>
<circle cx="611.90" cy="114.50" r="2.0" fill="#000"/>
<circle cx="614.90" cy="114.50" r="2.0" fill="#000"/>
<circle cx="618.60" cy="114.50" r="2.0" fill="#000"/>
<circle cx="607.10" cy="119.50" r="2.0" fill="#000"/>
<circle cx="610.70" cy="119.50" r="2.0" fill="#000"/>
<circle cx="614.30" cy="119.50" r="2.0" fill="#000"/>
<circle cx="618.00" cy="119.50" r="2.0" fill="#000"/>
<circle cx="621.00" cy="119.50" r="2.0" fill="#000"/>
<circle cx="610.70" cy="122.50" r="2.0" fill="#000"/>
<circle cx="614.90" cy="123.50" r="2.0" fill="#000"/>
<circle cx="619.20" cy="124.50" r="2.0" fill="#000"/>
<circle cx="612.50" cy="127.00" r="2.0" fill="#000"/>
<circle cx="617.40" cy="127.00" r="2.0" fill="#000"/>
<circle cx="607.10" cy="130.00" r="2.0" fill="#000"/>
<circle cx="610.10" cy="130.00" r="2.0" fill="#000"/>
<circle cx="616.10" cy="130.00" r="2.0" fill="#000"/>
<circle cx="619.80" cy="130.00" r="2.0" fill="#000"/>
<circle cx="603.50" cy="133.00" r="2.0" fill="#000"/>
<circle cx="606.50" cy="133.00" r="2.0" fill="#000"/>
<circle cx="614.90" cy="133.00" r="2.0" fill="#000"/>
<circle cx="619.20" cy="133.00" r="2.0" fill="#000"/>
<circle cx="622.20" cy="133.00" r="2.0" fill="#000"/>
<circle cx="603.50" cy="136.50" r="2.0" fill="#000"/>
<circle cx="607.10" cy="136.50" r="2.0" fill="#000"/>
<circle cx="610.70" cy="136.50" r="2.0" fill="#000"/>
<circle cx="614.30" cy="136.50" r="2.0" fill="#000"/>
<circle cx="618.00" cy="136.50" r="2.0" fill="#000"/>
<circle cx="624.00" cy="136.50" r="2.0" fill="#000"/>
<circle cx="610.10" cy="139.00" r="2.0" fill="#000"/>
<circle cx="613.70" cy="139.00" r="2.0" fill="#000"/>
<circle cx="617.40" cy="139.00" r="2.0" fill="#000"/>
<circle cx="613.50" cy="111.50" r="2.0" fill="#000"/>
<circle cx="616.50" cy="117.00" r="2.0" fill="#000"/>
<circle cx="609.00" cy="128.50" r="2.0" fill="#000"/>
<circle cx="611.50" cy="134.50" r="2.0" fill="#000"/>
<line x1="601.6" y1="123.2" x2="627" y2="123.2" stroke="#000" stroke-width="1.5" stroke-linecap="butt"/>
<circle cx="651.40" cy="106.90" r="2.7" fill="#7385a2"/>
<circle cx="651.40" cy="115.20" r="2.7" fill="#7385a2"/>
<circle cx="651.40" cy="119.60" r="2.7" fill="#7385a2"/>
<circle cx="648.00" cy="125.50" r="2.7" fill="#7385a2"/>
<circle cx="652.50" cy="125.00" r="2.7" fill="#7385a2"/>
<circle cx="655.00" cy="127.00" r="2.7" fill="#7385a2"/>
<circle cx="643.00" cy="129.50" r="2.7" fill="#7385a2"/>
<circle cx="647.00" cy="129.00" r="2.7" fill="#7385a2"/>
<circle cx="651.00" cy="129.00" r="2.7" fill="#7385a2"/>
<circle cx="655.00" cy="129.50" r="2.7" fill="#7385a2"/>
<circle cx="658.50" cy="131.00" r="2.7" fill="#7385a2"/>
<circle cx="661.50" cy="129.50" r="2.7" fill="#7385a2"/>
<circle cx="662.00" cy="133.00" r="2.7" fill="#7385a2"/>
<circle cx="640.50" cy="132.00" r="2.7" fill="#7385a2"/>
<circle cx="644.00" cy="132.50" r="2.7" fill="#7385a2"/>
<circle cx="648.00" cy="132.50" r="2.7" fill="#7385a2"/>
<circle cx="652.00" cy="132.50" r="2.7" fill="#7385a2"/>
<circle cx="656.00" cy="133.00" r="2.7" fill="#7385a2"/>
<circle cx="659.50" cy="134.50" r="2.7" fill="#7385a2"/>
<circle cx="641.00" cy="136.00" r="2.7" fill="#7385a2"/>
<circle cx="645.00" cy="136.50" r="2.7" fill="#7385a2"/>
<circle cx="649.00" cy="136.00" r="2.7" fill="#7385a2"/>
<circle cx="653.00" cy="136.50" r="2.7" fill="#7385a2"/>
<circle cx="657.00" cy="136.00" r="2.7" fill="#7385a2"/>
<circle cx="648.50" cy="139.50" r="2.7" fill="#7385a2"/>
<circle cx="652.50" cy="139.50" r="2.7" fill="#7385a2"/>
<circle cx="650.00" cy="140.50" r="2.7" fill="#7385a2"/>
<circle cx="271.50" cy="279.70" r="2.45" fill="#000"/>
<circle cx="267.80" cy="286.60" r="2.45" fill="#000"/>
<circle cx="263.50" cy="290.40" r="2.45" fill="#000"/>
<circle cx="254.90" cy="299.40" r="2.45" fill="#000"/>
<circle cx="272.50" cy="303.20" r="2.45" fill="#000"/>
<circle cx="261.30" cy="309.90" r="2.45" fill="#000"/>
<circle cx="264.90" cy="313.40" r="2.45" fill="#000"/>
<circle cx="267.10" cy="316.20" r="2.45" fill="#000"/>
<circle cx="273.20" cy="319.30" r="2.45" fill="#000"/>
<circle cx="248.20" cy="319.90" r="2.45" fill="#000"/>
<circle cx="244.60" cy="320.90" r="2.45" fill="#000"/>
<circle cx="242.10" cy="323.60" r="2.45" fill="#000"/>
<circle cx="263.80" cy="322.10" r="2.45" fill="#000"/>
<circle cx="261.00" cy="325.70" r="2.45" fill="#000"/>
<circle cx="271.20" cy="323.60" r="2.45" fill="#000"/>
<circle cx="275.30" cy="327.50" r="2.45" fill="#000"/>
<circle cx="223.00" cy="334.10" r="2.45" fill="#000"/>
<circle cx="245.50" cy="339.20" r="2.45" fill="#000"/>
<circle cx="257.40" cy="333.40" r="2.45" fill="#000"/>
<circle cx="255.90" cy="341.10" r="2.45" fill="#000"/>
<circle cx="260.00" cy="344.60" r="2.45" fill="#000"/>
<circle cx="259.00" cy="341.60" r="2.45" fill="#000"/>
<circle cx="262.00" cy="339.50" r="2.45" fill="#000"/>
<circle cx="260.30" cy="326.20" r="2.45" fill="#000"/>
<circle cx="265.10" cy="329.30" r="2.45" fill="#000"/>
<circle cx="267.30" cy="329.90" r="2.45" fill="#000"/>
<circle cx="267.10" cy="333.90" r="2.45" fill="#000"/>
<circle cx="267.60" cy="338.00" r="2.45" fill="#000"/>
<circle cx="266.10" cy="342.60" r="2.45" fill="#000"/>
<circle cx="266.10" cy="347.70" r="2.45" fill="#000"/>
<circle cx="264.60" cy="352.80" r="2.45" fill="#000"/>
<circle cx="264.60" cy="356.40" r="2.45" fill="#000"/>
<circle cx="270.20" cy="348.70" r="2.45" fill="#000"/>
<circle cx="272.20" cy="345.70" r="2.45" fill="#000"/>
<circle cx="275.30" cy="342.40" r="2.45" fill="#000"/>
<circle cx="270.70" cy="353.80" r="2.45" fill="#000"/>
<circle cx="268.10" cy="355.90" r="2.45" fill="#000"/>
<circle cx="275.30" cy="355.40" r="2.45" fill="#000"/>
<circle cx="272.20" cy="356.40" r="2.45" fill="#000"/>
<circle cx="279.40" cy="347.20" r="2.45" fill="#000"/>
<circle cx="280.40" cy="335.40" r="2.45" fill="#000"/>
<circle cx="283.00" cy="334.40" r="2.45" fill="#000"/>
<circle cx="283.00" cy="341.60" r="2.45" fill="#000"/>
<circle cx="282.40" cy="350.80" r="2.45" fill="#000"/>
<circle cx="283.00" cy="355.40" r="2.45" fill="#000"/>
<circle cx="263.00" cy="356.90" r="2.45" fill="#000"/>
<circle cx="290.50" cy="334.10" r="2.45" fill="#000"/>
<circle cx="297.90" cy="336.20" r="2.45" fill="#000"/>
<circle cx="286.50" cy="338.50" r="2.45" fill="#000"/>
<circle cx="298.80" cy="350.50" r="2.45" fill="#000"/>
<circle cx="295.30" cy="354.20" r="2.45" fill="#000"/>
<circle cx="285.20" cy="351.80" r="2.45" fill="#000"/>
<circle cx="278.60" cy="347.40" r="2.45" fill="#000"/>
<circle cx="268.10" cy="354.40" r="2.45" fill="#000"/>
<circle cx="263.80" cy="352.70" r="2.45" fill="#000"/>
<circle cx="259.00" cy="343.00" r="2.45" fill="#000"/>
<circle cx="255.90" cy="340.40" r="2.45" fill="#000"/>
<circle cx="268.10" cy="339.50" r="2.45" fill="#000"/>
<circle cx="268.10" cy="343.90" r="2.45" fill="#000"/>
<line x1="223.2" y1="317.2" x2="298.8" y2="347.5" stroke="#222" stroke-width="0.9" stroke-linecap="butt"/>
<circle cx="386.20" cy="282.70" r="2.45" fill="#000"/>
<circle cx="387.20" cy="287.60" r="2.45" fill="#000"/>
<circle cx="384.60" cy="291.20" r="2.45" fill="#000"/>
<circle cx="387.00" cy="300.30" r="2.45" fill="#000"/>
<circle cx="384.00" cy="303.80" r="2.45" fill="#000"/>
<circle cx="389.40" cy="310.30" r="2.45" fill="#000"/>
<circle cx="385.00" cy="314.20" r="2.45" fill="#000"/>
<circle cx="390.60" cy="317.60" r="2.45" fill="#000"/>
<circle cx="384.60" cy="320.60" r="2.45" fill="#000"/>
<circle cx="389.10" cy="322.40" r="2.45" fill="#000"/>
<circle cx="393.00" cy="322.90" r="2.45" fill="#000"/>
<circle cx="385.70" cy="325.80" r="2.45" fill="#000"/>
<circle cx="402.70" cy="324.50" r="2.45" fill="#000"/>
<circle cx="394.00" cy="327.70" r="2.45" fill="#000"/>
<circle cx="396.40" cy="328.70" r="2.45" fill="#000"/>
<circle cx="407.50" cy="330.60" r="2.45" fill="#000"/>
<circle cx="390.10" cy="331.60" r="2.45" fill="#000"/>
<circle cx="384.30" cy="333.50" r="2.45" fill="#000"/>
<circle cx="393.50" cy="334.00" r="2.45" fill="#000"/>
<circle cx="389.80" cy="331.60" r="2.45" fill="#000"/>
<circle cx="392.90" cy="334.60" r="2.45" fill="#000"/>
<circle cx="396.80" cy="336.40" r="2.45" fill="#000"/>
<circle cx="393.80" cy="338.10" r="2.45" fill="#000"/>
<circle cx="395.50" cy="339.90" r="2.45" fill="#000"/>
<circle cx="399.00" cy="339.40" r="2.45" fill="#000"/>
<circle cx="399.90" cy="341.60" r="2.45" fill="#000"/>
<circle cx="394.20" cy="343.40" r="2.45" fill="#000"/>
<circle cx="397.30" cy="344.30" r="2.45" fill="#000"/>
<circle cx="398.10" cy="342.50" r="2.45" fill="#000"/>
<circle cx="385.70" cy="340.80" r="2.45" fill="#000"/>
<circle cx="409.10" cy="341.20" r="2.45" fill="#000"/>
<circle cx="407.30" cy="342.50" r="2.45" fill="#000"/>
<circle cx="419.20" cy="343.00" r="2.45" fill="#000"/>
<circle cx="384.80" cy="345.60" r="2.45" fill="#000"/>
<circle cx="386.30" cy="348.20" r="2.45" fill="#000"/>
<circle cx="388.10" cy="349.10" r="2.45" fill="#000"/>
<circle cx="403.40" cy="347.80" r="2.45" fill="#000"/>
<circle cx="406.00" cy="346.90" r="2.45" fill="#000"/>
<circle cx="410.00" cy="349.10" r="2.45" fill="#000"/>
<circle cx="418.30" cy="350.00" r="2.45" fill="#000"/>
<circle cx="417.80" cy="354.80" r="2.45" fill="#000"/>
<circle cx="399.50" cy="351.70" r="2.45" fill="#000"/>
<circle cx="383.70" cy="353.00" r="2.45" fill="#000"/>
<circle cx="386.30" cy="353.90" r="2.45" fill="#000"/>
<circle cx="388.90" cy="354.80" r="2.45" fill="#000"/>
<circle cx="391.60" cy="354.30" r="2.45" fill="#000"/>
<circle cx="394.20" cy="352.10" r="2.45" fill="#000"/>
<circle cx="396.40" cy="354.80" r="2.45" fill="#000"/>
<circle cx="385.90" cy="356.50" r="2.45" fill="#000"/>
<circle cx="388.50" cy="357.40" r="2.45" fill="#000"/>
<circle cx="391.10" cy="358.70" r="2.45" fill="#000"/>
<circle cx="393.80" cy="357.40" r="2.45" fill="#000"/>
<circle cx="395.90" cy="356.10" r="2.45" fill="#000"/>
<circle cx="404.30" cy="356.10" r="2.45" fill="#000"/>
<circle cx="403.40" cy="358.70" r="2.45" fill="#000"/>
<circle cx="471.90" cy="356.50" r="2.45" fill="#000"/>
<line x1="382.4" y1="336.7" x2="471.9" y2="367.2" stroke="#222" stroke-width="0.9" stroke-linecap="butt"/>
<circle cx="565.50" cy="279.90" r="2.45" fill="#000"/>
<circle cx="560.00" cy="282.10" r="2.45" fill="#000"/>
<circle cx="554.40" cy="286.90" r="2.45" fill="#000"/>
<circle cx="556.30" cy="290.80" r="2.45" fill="#000"/>
<circle cx="553.40" cy="299.50" r="2.45" fill="#000"/>
<circle cx="557.30" cy="303.70" r="2.45" fill="#000"/>
<circle cx="596.80" cy="305.00" r="2.45" fill="#000"/>
<circle cx="556.00" cy="309.70" r="2.45" fill="#000"/>
<circle cx="558.50" cy="313.80" r="2.45" fill="#000"/>
<circle cx="565.30" cy="317.20" r="2.45" fill="#000"/>
<circle cx="553.90" cy="320.10" r="2.45" fill="#000"/>
<circle cx="559.70" cy="321.30" r="2.45" fill="#000"/>
<circle cx="562.10" cy="322.30" r="2.45" fill="#000"/>
<circle cx="557.70" cy="323.70" r="2.45" fill="#000"/>
<circle cx="560.60" cy="324.70" r="2.45" fill="#000"/>
<circle cx="556.30" cy="328.10" r="2.45" fill="#000"/>
<circle cx="561.40" cy="321.80" r="2.45" fill="#000"/>
<circle cx="558.80" cy="324.40" r="2.45" fill="#000"/>
<circle cx="556.60" cy="328.80" r="2.45" fill="#000"/>
<circle cx="557.40" cy="331.40" r="2.45" fill="#000"/>
<circle cx="554.80" cy="333.60" r="2.45" fill="#000"/>
<circle cx="573.20" cy="338.60" r="2.45" fill="#000"/>
<circle cx="596.40" cy="333.30" r="2.45" fill="#000"/>
<circle cx="588.50" cy="340.60" r="2.45" fill="#000"/>
<circle cx="597.30" cy="341.90" r="2.45" fill="#000"/>
<circle cx="560.10" cy="340.60" r="2.45" fill="#000"/>
<circle cx="564.00" cy="341.00" r="2.45" fill="#000"/>
<circle cx="567.10" cy="342.80" r="2.45" fill="#000"/>
<circle cx="556.10" cy="344.10" r="2.45" fill="#000"/>
<circle cx="554.00" cy="348.00" r="2.45" fill="#000"/>
<circle cx="558.80" cy="346.30" r="2.45" fill="#000"/>
<circle cx="562.30" cy="348.00" r="2.45" fill="#000"/>
<circle cx="564.40" cy="348.90" r="2.45" fill="#000"/>
<circle cx="555.30" cy="350.60" r="2.45" fill="#000"/>
<circle cx="558.30" cy="350.20" r="2.45" fill="#000"/>
<circle cx="554.00" cy="353.70" r="2.45" fill="#000"/>
<circle cx="556.60" cy="354.60" r="2.45" fill="#000"/>
<circle cx="554.40" cy="356.30" r="2.45" fill="#000"/>
<circle cx="568.40" cy="352.80" r="2.45" fill="#000"/>
<circle cx="569.70" cy="355.50" r="2.45" fill="#000"/>
<circle cx="563.60" cy="355.90" r="2.45" fill="#000"/>
<circle cx="588.10" cy="346.70" r="2.45" fill="#000"/>
<circle cx="589.80" cy="351.10" r="2.45" fill="#000"/>
<circle cx="588.50" cy="356.30" r="2.45" fill="#000"/>
<circle cx="578.90" cy="353.30" r="2.45" fill="#000"/>
<circle cx="581.50" cy="352.40" r="2.45" fill="#000"/>
<circle cx="584.20" cy="352.80" r="2.45" fill="#000"/>
<circle cx="577.10" cy="357.20" r="2.45" fill="#000"/>
<circle cx="579.30" cy="355.90" r="2.45" fill="#000"/>
<circle cx="581.10" cy="355.00" r="2.45" fill="#000"/>
<circle cx="599.50" cy="349.30" r="2.45" fill="#000"/>
<circle cx="596.80" cy="352.00" r="2.45" fill="#000"/>
<circle cx="602.10" cy="354.00" r="2.45" fill="#000"/>
<circle cx="607.80" cy="357.20" r="2.45" fill="#000"/>
<circle cx="621.40" cy="344.50" r="2.45" fill="#000"/>
<circle cx="601.80" cy="353.90" r="2.45" fill="#000"/>
<circle cx="607.90" cy="357.40" r="2.45" fill="#000"/>
<circle cx="618.70" cy="355.60" r="2.45" fill="#000"/>
<circle cx="626.60" cy="358.00" r="2.45" fill="#000"/>
<circle cx="637.40" cy="358.30" r="2.45" fill="#000"/>
<circle cx="668.60" cy="354.50" r="2.45" fill="#000"/>
<line x1="552.6" y1="334.3" x2="668.6" y2="367.1" stroke="#222" stroke-width="0.9" stroke-linecap="butt"/>
<circle cx="56.00" cy="497.10" r="2.45" fill="#000"/>
<circle cx="49.20" cy="499.30" r="2.45" fill="#000"/>
<circle cx="51.90" cy="504.20" r="2.45" fill="#000"/>
<circle cx="54.30" cy="508.20" r="2.45" fill="#000"/>
<circle cx="48.50" cy="516.80" r="2.45" fill="#000"/>
<circle cx="51.00" cy="520.90" r="2.45" fill="#000"/>
<circle cx="55.20" cy="527.30" r="2.45" fill="#000"/>
<circle cx="50.30" cy="530.80" r="2.45" fill="#000"/>
<circle cx="58.50" cy="534.40" r="2.45" fill="#000"/>
<circle cx="47.70" cy="537.60" r="2.45" fill="#000"/>
<circle cx="53.80" cy="538.90" r="2.45" fill="#000"/>
<circle cx="56.00" cy="541.10" r="2.45" fill="#000"/>
<circle cx="51.60" cy="542.00" r="2.45" fill="#000"/>
<circle cx="50.80" cy="545.50" r="2.45" fill="#000"/>
<circle cx="51.20" cy="548.10" r="2.45" fill="#000"/>
<circle cx="46.80" cy="550.80" r="2.45" fill="#000"/>
<circle cx="61.70" cy="556.00" r="2.45" fill="#000"/>
<circle cx="66.50" cy="557.90" r="2.45" fill="#000"/>
<circle cx="54.30" cy="558.20" r="2.45" fill="#000"/>
<circle cx="57.80" cy="560.00" r="2.45" fill="#000"/>
<circle cx="82.70" cy="556.70" r="2.45" fill="#000"/>
<circle cx="80.50" cy="559.10" r="2.45" fill="#000"/>
<circle cx="84.00" cy="561.70" r="2.45" fill="#000"/>
<circle cx="70.00" cy="564.80" r="2.45" fill="#000"/>
<circle cx="49.00" cy="562.10" r="2.45" fill="#000"/>
<circle cx="47.30" cy="565.20" r="2.45" fill="#000"/>
<circle cx="50.80" cy="565.20" r="2.45" fill="#000"/>
<circle cx="48.10" cy="568.30" r="2.45" fill="#000"/>
<circle cx="51.60" cy="568.30" r="2.45" fill="#000"/>
<circle cx="47.30" cy="571.30" r="2.45" fill="#000"/>
<circle cx="50.80" cy="571.80" r="2.45" fill="#000"/>
<circle cx="49.40" cy="574.40" r="2.45" fill="#000"/>
<circle cx="52.50" cy="573.50" r="2.45" fill="#000"/>
<circle cx="56.00" cy="566.50" r="2.45" fill="#000"/>
<circle cx="59.50" cy="567.40" r="2.45" fill="#000"/>
<circle cx="62.10" cy="569.20" r="2.45" fill="#000"/>
<circle cx="63.90" cy="570.90" r="2.45" fill="#000"/>
<circle cx="58.60" cy="570.90" r="2.45" fill="#000"/>
<circle cx="61.30" cy="573.50" r="2.45" fill="#000"/>
<circle cx="60.40" cy="575.30" r="2.45" fill="#000"/>
<circle cx="69.20" cy="570.90" r="2.45" fill="#000"/>
<circle cx="73.50" cy="573.50" r="2.45" fill="#000"/>
<circle cx="76.20" cy="572.70" r="2.45" fill="#000"/>
<circle cx="82.30" cy="566.10" r="2.45" fill="#000"/>
<circle cx="82.30" cy="569.20" r="2.45" fill="#000"/>
<circle cx="82.30" cy="573.50" r="2.45" fill="#000"/>
<circle cx="82.30" cy="575.30" r="2.45" fill="#000"/>
<circle cx="93.90" cy="563.90" r="2.45" fill="#000"/>
<circle cx="92.30" cy="568.80" r="2.45" fill="#000"/>
<circle cx="92.30" cy="575.60" r="2.45" fill="#000"/>
<circle cx="106.20" cy="573.20" r="2.45" fill="#000"/>
<circle cx="106.90" cy="575.80" r="2.45" fill="#000"/>
<circle cx="123.50" cy="557.20" r="2.45" fill="#000"/>
<circle cx="125.10" cy="571.50" r="2.45" fill="#000"/>
<circle cx="54.50" cy="562.50" r="2.45" fill="#000"/>
<circle cx="57.00" cy="564.00" r="2.45" fill="#000"/>
<line x1="49.3" y1="551.7" x2="124.4" y2="580.9" stroke="#222" stroke-width="0.9" stroke-linecap="butt"/>
<circle cx="387.60" cy="476.30" r="2.45" fill="#7385a2"/>
<circle cx="392.60" cy="481.10" r="2.45" fill="#7385a2"/>
<circle cx="383.90" cy="493.20" r="2.45" fill="#7385a2"/>
<circle cx="395.00" cy="498.30" r="2.45" fill="#7385a2"/>
<circle cx="391.40" cy="506.60" r="2.45" fill="#7385a2"/>
<circle cx="398.70" cy="511.60" r="2.45" fill="#7385a2"/>
<circle cx="419.50" cy="516.50" r="2.45" fill="#7385a2"/>
<circle cx="385.30" cy="520.50" r="2.45" fill="#7385a2"/>
<circle cx="396.30" cy="523.50" r="2.45" fill="#7385a2"/>
<circle cx="403.50" cy="521.90" r="2.45" fill="#7385a2"/>
<circle cx="409.60" cy="522.50" r="2.45" fill="#7385a2"/>
<circle cx="407.40" cy="525.60" r="2.45" fill="#7385a2"/>
<circle cx="401.10" cy="527.50" r="2.45" fill="#7385a2"/>
<circle cx="438.40" cy="529.00" r="2.45" fill="#7385a2"/>
<circle cx="393.60" cy="530.80" r="2.45" fill="#7385a2"/>
<circle cx="395.00" cy="534.50" r="2.45" fill="#7385a2"/>
<circle cx="388.70" cy="537.90" r="2.45" fill="#7385a2"/>
<circle cx="396.90" cy="540.50" r="2.45" fill="#7385a2"/>
<circle cx="383.90" cy="546.60" r="2.45" fill="#7385a2"/>
<circle cx="393.60" cy="546.10" r="2.45" fill="#7385a2"/>
<circle cx="397.40" cy="545.70" r="2.45" fill="#7385a2"/>
<circle cx="400.30" cy="546.10" r="2.45" fill="#7385a2"/>
<circle cx="403.70" cy="547.30" r="2.45" fill="#7385a2"/>
<circle cx="382.40" cy="552.40" r="2.45" fill="#7385a2"/>
<circle cx="388.70" cy="550.80" r="2.45" fill="#7385a2"/>
<circle cx="393.60" cy="552.00" r="2.45" fill="#7385a2"/>
<circle cx="397.40" cy="553.90" r="2.45" fill="#7385a2"/>
<circle cx="401.30" cy="553.40" r="2.45" fill="#7385a2"/>
<circle cx="418.20" cy="553.40" r="2.45" fill="#7385a2"/>
<circle cx="419.70" cy="554.80" r="2.45" fill="#7385a2"/>
<circle cx="413.40" cy="555.30" r="2.45" fill="#7385a2"/>
<circle cx="383.90" cy="558.20" r="2.45" fill="#7385a2"/>
<circle cx="386.80" cy="559.20" r="2.45" fill="#7385a2"/>
<circle cx="389.70" cy="556.80" r="2.45" fill="#7385a2"/>
<circle cx="393.60" cy="557.80" r="2.45" fill="#7385a2"/>
<circle cx="396.50" cy="558.70" r="2.45" fill="#7385a2"/>
<circle cx="400.30" cy="559.20" r="2.45" fill="#7385a2"/>
<circle cx="403.20" cy="560.20" r="2.45" fill="#7385a2"/>
<circle cx="407.10" cy="558.20" r="2.45" fill="#7385a2"/>
<circle cx="410.00" cy="560.70" r="2.45" fill="#7385a2"/>
<circle cx="412.90" cy="559.70" r="2.45" fill="#7385a2"/>
<circle cx="414.40" cy="559.20" r="2.45" fill="#7385a2"/>
<circle cx="385.80" cy="561.60" r="2.45" fill="#7385a2"/>
<circle cx="388.70" cy="563.60" r="2.45" fill="#7385a2"/>
<circle cx="390.20" cy="566.00" r="2.45" fill="#7385a2"/>
<circle cx="393.60" cy="567.40" r="2.45" fill="#7385a2"/>
<circle cx="396.90" cy="565.00" r="2.45" fill="#7385a2"/>
<circle cx="399.40" cy="568.40" r="2.45" fill="#7385a2"/>
<circle cx="402.30" cy="561.60" r="2.45" fill="#7385a2"/>
<circle cx="405.70" cy="563.10" r="2.45" fill="#7385a2"/>
<circle cx="405.70" cy="565.00" r="2.45" fill="#7385a2"/>
<circle cx="409.00" cy="563.60" r="2.45" fill="#7385a2"/>
<circle cx="410.00" cy="566.50" r="2.45" fill="#7385a2"/>
<circle cx="412.90" cy="565.00" r="2.45" fill="#7385a2"/>
<circle cx="411.90" cy="562.60" r="2.45" fill="#7385a2"/>
<circle cx="419.20" cy="562.60" r="2.45" fill="#7385a2"/>
<circle cx="419.70" cy="565.00" r="2.45" fill="#7385a2"/>
<circle cx="423.60" cy="559.70" r="2.45" fill="#7385a2"/>
<circle cx="426.00" cy="564.00" r="2.45" fill="#7385a2"/>
<circle cx="431.30" cy="566.00" r="2.45" fill="#7385a2"/>
<circle cx="437.10" cy="567.20" r="2.45" fill="#7385a2"/>
<circle cx="426.50" cy="569.90" r="2.45" fill="#7385a2"/>
<circle cx="425.50" cy="572.30" r="2.45" fill="#7385a2"/>
<circle cx="413.40" cy="573.20" r="2.45" fill="#7385a2"/>
<circle cx="443.00" cy="545.00" r="2.45" fill="#7385a2"/>
<circle cx="464.70" cy="559.60" r="2.45" fill="#7385a2"/>
<circle cx="485.20" cy="559.60" r="2.45" fill="#7385a2"/>
<circle cx="450.40" cy="567.80" r="2.45" fill="#7385a2"/>
<line x1="381.6" y1="542.8" x2="484.7" y2="573.1" stroke="#7a8aa3" stroke-width="0.9" stroke-linecap="butt"/>
<circle cx="574.50" cy="500.20" r="2.45" fill="#7385a2"/>
<circle cx="584.40" cy="497.90" r="2.45" fill="#7385a2"/>
<circle cx="581.90" cy="508.90" r="2.45" fill="#7385a2"/>
<circle cx="573.40" cy="517.80" r="2.45" fill="#7385a2"/>
<circle cx="575.70" cy="531.40" r="2.45" fill="#7385a2"/>
<circle cx="571.90" cy="537.90" r="2.45" fill="#7385a2"/>
<circle cx="578.40" cy="540.30" r="2.45" fill="#7385a2"/>
<circle cx="581.90" cy="539.40" r="2.45" fill="#7385a2"/>
<circle cx="584.50" cy="542.00" r="2.45" fill="#7385a2"/>
<circle cx="579.40" cy="542.80" r="2.45" fill="#7385a2"/>
<circle cx="577.10" cy="545.90" r="2.45" fill="#7385a2"/>
<circle cx="577.10" cy="549.00" r="2.45" fill="#7385a2"/>
<circle cx="570.60" cy="549.50" r="2.45" fill="#7385a2"/>
<circle cx="570.70" cy="551.20" r="2.45" fill="#7385a2"/>
<circle cx="585.40" cy="553.00" r="2.45" fill="#7385a2"/>
<circle cx="592.80" cy="556.50" r="2.45" fill="#7385a2"/>
<circle cx="610.00" cy="544.60" r="2.45" fill="#7385a2"/>
<circle cx="568.80" cy="557.80" r="2.45" fill="#7385a2"/>
<circle cx="581.90" cy="557.80" r="2.45" fill="#7385a2"/>
<circle cx="586.30" cy="557.30" r="2.45" fill="#7385a2"/>
<circle cx="570.50" cy="561.30" r="2.45" fill="#7385a2"/>
<circle cx="574.00" cy="562.10" r="2.45" fill="#7385a2"/>
<circle cx="577.50" cy="560.80" r="2.45" fill="#7385a2"/>
<circle cx="581.00" cy="560.40" r="2.45" fill="#7385a2"/>
<circle cx="585.40" cy="563.00" r="2.45" fill="#7385a2"/>
<circle cx="588.90" cy="563.90" r="2.45" fill="#7385a2"/>
<circle cx="594.20" cy="563.50" r="2.45" fill="#7385a2"/>
<circle cx="571.40" cy="565.00" r="2.45" fill="#7385a2"/>
<circle cx="575.00" cy="566.00" r="2.45" fill="#7385a2"/>
<circle cx="578.40" cy="565.20" r="2.45" fill="#7385a2"/>
<circle cx="581.90" cy="566.50" r="2.45" fill="#7385a2"/>
<circle cx="571.00" cy="569.00" r="2.45" fill="#7385a2"/>
<circle cx="574.00" cy="570.00" r="2.45" fill="#7385a2"/>
<circle cx="577.50" cy="570.90" r="2.45" fill="#7385a2"/>
<circle cx="581.00" cy="571.80" r="2.45" fill="#7385a2"/>
<circle cx="583.60" cy="569.60" r="2.45" fill="#7385a2"/>
<circle cx="590.60" cy="567.40" r="2.45" fill="#7385a2"/>
<circle cx="590.60" cy="570.90" r="2.45" fill="#7385a2"/>
<circle cx="593.30" cy="574.80" r="2.45" fill="#7385a2"/>
<circle cx="580.10" cy="574.00" r="2.45" fill="#7385a2"/>
<circle cx="585.40" cy="577.00" r="2.45" fill="#7385a2"/>
<circle cx="588.00" cy="577.50" r="2.45" fill="#7385a2"/>
<circle cx="605.10" cy="566.80" r="2.45" fill="#7385a2"/>
<circle cx="606.60" cy="570.70" r="2.45" fill="#7385a2"/>
<circle cx="603.90" cy="572.90" r="2.45" fill="#7385a2"/>
<circle cx="613.80" cy="570.70" r="2.45" fill="#7385a2"/>
<circle cx="615.10" cy="572.50" r="2.45" fill="#7385a2"/>
<circle cx="626.10" cy="563.50" r="2.45" fill="#7385a2"/>
<circle cx="632.50" cy="573.70" r="2.45" fill="#7385a2"/>
<circle cx="652.10" cy="567.40" r="2.45" fill="#7385a2"/>
<circle cx="653.60" cy="567.60" r="2.45" fill="#7385a2"/>
<line x1="570.5" y1="556.6" x2="652.9" y2="573.8" stroke="#7a8aa3" stroke-width="0.9" stroke-linecap="butt"/>
<line x1="32.6" y1="372.6" x2="155.4" y2="250.0" stroke="#e8909c" stroke-width="0.55" stroke-linecap="butt"/>
<polyline points="32.60,372.60 32.60,351.90 34.10,351.90 34.10,345.80 36.10,345.80 36.10,341.60 38.20,341.60 38.20,339.40 41.90,339.40 41.90,334.80 43.50,334.80 43.50,330.60 45.40,330.60 45.40,328.40 51.50,328.40 51.50,322.60 53.50,322.60 53.50,319.90 60.30,319.90 60.30,315.60 67.80,315.60 67.80,313.60 75.40,313.60 75.40,311.30 79.30,311.30 79.30,307.30 81.00,307.30 81.00,300.80 84.60,300.80 84.60,298.80 90.50,298.80 90.50,292.20 96.10,292.20 96.10,290.60 97.70,290.60 97.70,288.30 103.50,288.30 103.50,286.20 105.30,286.20 105.30,279.50 114.60,279.50 114.60,271.30 116.20,271.30 116.20,264.60 122.30,264.60 122.30,262.90 129.40,262.90 129.40,258.50 133.10,258.50 133.10,254.80 134.60,254.80 134.60,252.40 140.70,252.40 140.70,250.30 155.40,250.30" fill="none" stroke="#111" stroke-width="1.7" stroke-linejoin="miter"/>
<line x1="202.4" y1="590.6" x2="325.6" y2="467.6" stroke="#e8909c" stroke-width="0.55" stroke-linecap="butt"/>
<polyline points="202.60,590.60 202.60,569.00 204.10,569.00 204.10,560.30 205.60,560.30 205.60,557.30 207.20,557.30 207.20,555.50 209.00,555.50 209.00,554.00 211.40,554.00 211.40,541.80 213.40,541.80 213.40,532.00 215.20,532.00 215.20,529.30 220.90,529.30 220.90,501.40 222.40,501.40 222.40,498.80 230.30,498.80 230.30,495.30 236.20,495.30 236.20,486.60 237.70,486.60 237.70,480.30 259.90,480.30 259.90,474.00 271.40,474.00 271.40,470.70 286.20,470.70 286.20,467.90 325.60,467.90" fill="none" stroke="#7687a2" stroke-width="1.4" stroke-linejoin="miter"/>
</svg>
</body></html>
